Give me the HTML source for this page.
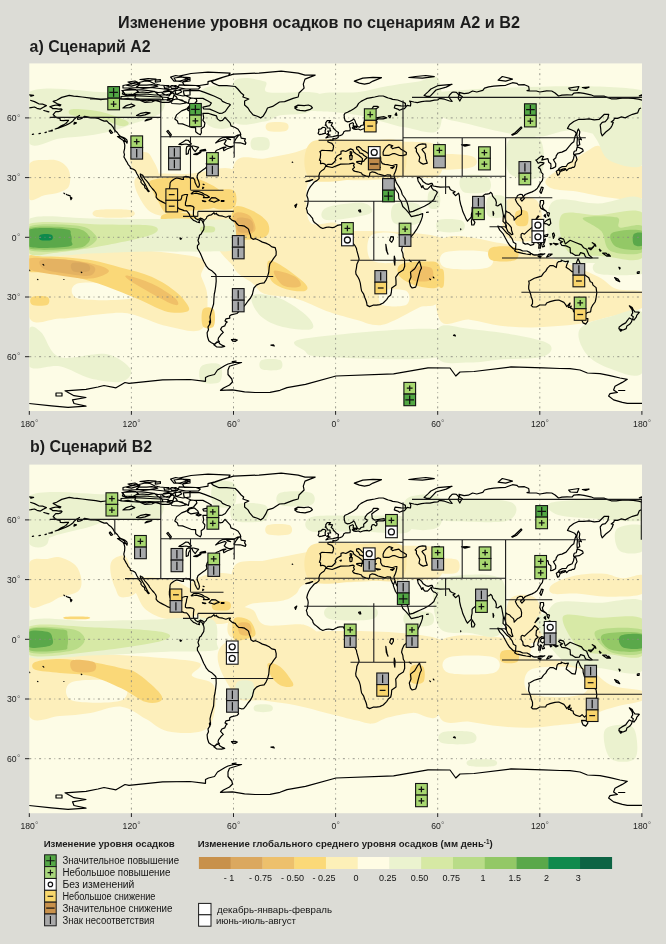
<!DOCTYPE html>
<html><head><meta charset="utf-8"><title>Изменение уровня осадков</title>
<style>html,body{margin:0;padding:0;background:#dcdcd6;}svg{display:block;}</style></head>
<body><svg width="666" height="944" viewBox="0 0 666 944" font-family="'Liberation Sans', 'Noto Sans CJK SC', sans-serif"><rect x="0" y="0" width="666" height="944" fill="#dcdcd6"/>
<text x="118.0" y="27.6" font-size="17" font-weight="bold" text-anchor="start" fill="#1c1c1c" textLength="402" lengthAdjust="spacingAndGlyphs">Изменение уровня осадков по сценариям А2 и В2</text>
<text x="29.6" y="51.6" font-size="16" font-weight="bold" text-anchor="start" fill="#1c1c1c" textLength="121" lengthAdjust="spacingAndGlyphs">a) Сценарий А2</text>
<text x="30.1" y="451.5" font-size="16" font-weight="bold" text-anchor="start" fill="#1c1c1c" textLength="122" lengthAdjust="spacingAndGlyphs">b) Сценарий В2</text>
<clipPath id="clipA"><rect x="29.3" y="63.4" width="612.7" height="347.6"/></clipPath>
<rect x="29.3" y="63.4" width="612.7" height="347.6" fill="#fdfce6"/>
<g clip-path="url(#clipA)">
<path d="M29.0,164.6C32.1,158.2 42.3,160.5 47.5,160.0C52.6,159.4 56.2,159.7 59.8,161.5C63.4,163.3 67.5,166.6 69.0,170.7C70.6,174.8 70.6,182.5 69.0,186.1C67.5,189.7 63.9,190.7 59.8,192.3C55.7,193.8 49.5,194.3 44.4,195.3C39.3,196.4 31.6,203.6 29.0,198.4C26.4,193.3 25.9,171.0 29.0,164.6ZM130.6,155.3C132.6,152.3 142.4,151.7 146.0,152.3C149.5,152.8 150.1,154.8 152.1,158.4C154.2,162.0 159.3,170.7 158.3,173.8C157.2,176.9 150.1,177.4 146.0,176.9C141.9,176.4 136.2,174.3 133.6,170.7C131.1,167.1 128.5,158.4 130.6,155.3ZM136.7,176.9C143.9,171.2 172.8,174.8 189.0,173.8C205.3,172.8 226.5,163.5 234.0,170.7C241.5,177.9 239.4,208.9 234.0,216.9C228.5,224.8 212.4,218.4 201.4,218.4C190.3,218.4 176.7,218.7 167.5,216.9C158.3,215.1 151.1,214.3 146.0,207.7C140.8,201.0 129.5,182.5 136.7,176.9ZM96.7,210.1C102.4,209.0 124.9,209.0 130.6,210.1C136.2,211.3 136.2,215.8 130.6,216.9C124.9,218.0 102.4,218.0 96.7,216.9C91.1,215.8 91.1,211.3 96.7,210.1ZM234.0,164.6C239.1,151.5 254.5,160.5 264.8,158.4C275.0,156.4 286.3,154.8 295.6,152.3C304.8,149.7 312.5,145.1 320.2,143.0C327.9,141.0 333.0,140.5 341.7,139.9C350.4,139.4 362.2,139.7 372.5,139.9C382.8,140.2 392.2,140.5 403.3,141.5C414.4,142.5 433.0,140.5 439.0,146.1C444.9,151.7 444.9,170.2 439.0,175.3C433.0,180.5 414.4,176.1 403.3,176.9C392.2,177.7 383.8,179.4 372.5,180.0C361.2,180.5 345.8,180.0 335.6,180.0C325.3,180.0 315.8,176.9 310.9,180.0C306.1,183.0 306.3,191.2 306.3,198.4C306.3,205.6 306.1,218.9 310.9,223.0C315.8,227.2 331.5,220.7 335.6,223.0C339.7,225.4 352.5,234.6 335.6,236.9C318.6,239.2 250.9,249.0 234.0,236.9C217.1,224.8 228.9,177.7 234.0,164.6ZM267.9,123.0C270.9,121.7 283.2,121.7 286.3,123.0C289.4,124.3 289.4,129.4 286.3,130.7C283.2,132.0 270.9,132.0 267.9,130.7C264.8,129.4 264.8,124.3 267.9,123.0ZM439.0,154.9C444.6,152.8 467.1,154.4 472.7,156.4C478.3,158.5 478.3,165.1 472.7,167.1C467.1,169.2 444.6,170.7 439.0,168.7C433.4,166.6 433.4,156.9 439.0,154.9ZM546.2,179.4C548.7,175.3 561.0,168.7 567.6,164.1C574.3,159.5 580.9,154.9 586.0,151.8C591.1,148.8 594.7,145.2 598.3,145.7C601.8,146.2 603.4,151.8 607.5,154.9C611.5,157.9 616.8,162.0 622.8,164.1C628.7,166.1 639.6,161.5 643.0,167.1C646.4,172.7 648.4,192.7 643.0,197.8C637.6,202.9 621.5,198.8 610.5,197.8C599.5,196.7 586.5,193.2 576.8,191.6C567.1,190.1 557.4,190.6 552.3,188.6C547.2,186.5 543.6,183.5 546.2,179.4ZM506.4,200.8C511.5,194.8 531.4,194.8 537.0,200.8C542.6,206.8 545.2,230.9 540.1,237.0C535.0,243.0 512.0,243.0 506.4,237.0C500.8,230.9 501.3,206.8 506.4,200.8ZM29.0,250.9C55.7,240.6 160.3,251.1 189.0,255.5C217.8,259.8 198.3,269.8 201.4,277.0C204.4,284.2 207.5,289.8 207.5,298.6C207.5,307.3 208.0,324.7 201.4,329.3C194.7,334.0 179.3,328.8 167.5,326.3C155.7,323.7 141.3,316.0 130.6,313.9C119.8,311.9 114.7,313.2 102.9,313.9C91.1,314.7 72.1,318.1 59.8,318.6C47.5,319.1 34.1,328.3 29.0,317.0C23.9,305.7 2.3,261.1 29.0,250.9ZM234.0,237.0C268.2,231.9 404.8,226.7 439.0,237.0C473.2,247.3 442.4,286.8 439.0,298.6C435.6,310.4 427.2,303.7 418.7,307.8C410.2,311.9 395.6,320.4 387.9,323.2C380.2,326.0 377.6,325.2 372.5,324.7C367.4,324.2 364.8,322.4 357.1,320.1C349.4,317.8 336.6,314.5 326.3,310.9C316.1,307.3 305.8,301.4 295.6,298.6C285.3,295.7 272.0,296.5 264.8,293.9C257.6,291.4 257.6,287.5 252.5,283.2C247.3,278.8 237.1,275.5 234.0,267.8C230.9,260.1 199.8,242.1 234.0,237.0ZM439.0,241.6C449.2,229.1 486.0,241.3 500.3,243.1C514.5,244.9 514.5,249.3 524.8,252.3C535.0,255.4 549.3,257.4 561.5,261.5C573.8,265.6 589.1,272.2 598.3,276.8C607.5,281.4 609.2,286.5 616.6,289.1C624.1,291.6 638.6,289.1 643.0,292.1C647.4,295.2 648.4,303.4 643.0,307.4C637.6,311.5 620.0,314.1 610.5,316.6C601.0,319.2 594.2,321.2 586.0,322.8C577.8,324.3 570.7,325.1 561.5,325.8C552.3,326.6 541.1,327.4 530.9,327.4C520.7,327.4 510.5,327.1 500.3,325.8C490.0,324.5 479.8,321.0 469.6,319.7C459.4,318.4 444.1,331.2 439.0,318.2C433.9,305.1 428.8,254.1 439.0,241.6ZM201.4,185.2C206.8,179.5 228.5,176.4 234.0,182.1C239.4,187.7 237.4,211.8 234.0,219.0C230.6,226.2 219.1,225.7 213.7,225.2C208.2,224.7 203.4,222.6 201.4,215.9C199.3,209.3 195.9,190.8 201.4,185.2Z" fill="#fdefbb"/><path d="M78.2,283.2C87.0,281.1 121.8,283.7 130.6,286.2C139.3,288.8 139.3,296.5 130.6,298.6C121.8,300.6 87.0,301.1 78.2,298.6C69.5,296.0 69.5,285.2 78.2,283.2ZM371.0,235.5C375.8,231.4 395.3,231.4 400.2,235.5C405.1,239.6 405.1,256.0 400.2,260.1C395.3,264.2 375.8,264.2 371.0,260.1C366.1,256.0 366.1,239.6 371.0,235.5ZM381.7,290.9C385.8,288.6 402.3,288.6 406.4,290.9C410.5,293.2 410.5,302.4 406.4,304.7C402.3,307.0 385.8,307.0 381.7,304.7C377.6,302.4 377.6,293.2 381.7,290.9ZM445.1,252.3C452.3,249.8 480.9,249.8 488.0,252.3C495.2,254.9 495.2,265.1 488.0,267.6C480.9,270.2 452.3,270.2 445.1,267.6C438.0,265.1 438.0,254.9 445.1,252.3Z" fill="#fdfce6"/><path d="M310.9,142.4C319.7,135.9 348.1,140.6 363.3,140.6C378.4,140.6 395.3,136.5 401.7,142.4C408.2,148.4 408.2,170.3 401.7,176.3C395.3,182.3 378.4,177.9 363.3,178.4C348.1,178.9 319.7,185.3 310.9,179.3C302.2,173.3 302.2,148.9 310.9,142.4Z" fill="#fce8a6"/><path d="M152.1,180.0C158.3,177.9 178.8,175.9 189.0,176.9C199.3,177.9 207.5,182.5 213.7,186.1C219.8,189.7 226.0,194.8 226.0,198.4C226.0,202.0 219.8,205.6 213.7,207.7C207.5,209.7 196.7,209.7 189.0,210.7C181.4,211.8 172.6,215.4 167.5,213.8C162.4,212.3 160.8,205.6 158.3,201.5C155.7,197.4 153.1,192.8 152.1,189.2C151.1,185.6 146.0,182.0 152.1,180.0ZM213.7,192.3C217.1,189.4 230.6,188.2 234.0,190.7C237.4,193.3 237.4,204.8 234.0,207.7C230.6,210.5 217.1,210.2 213.7,207.7C210.3,205.1 210.3,195.1 213.7,192.3ZM29.0,255.5C34.1,253.2 49.5,256.2 59.8,257.0C70.0,257.8 80.3,258.3 90.6,260.1C100.8,261.9 111.1,265.0 121.3,267.8C131.6,270.6 142.9,272.9 152.1,277.0C161.3,281.1 170.6,287.3 176.7,292.4C182.9,297.5 188.0,304.5 189.0,307.8C190.1,311.1 187.0,311.9 182.9,312.4C178.8,312.9 172.1,313.2 164.4,310.9C156.7,308.6 146.5,302.7 136.7,298.6C127.0,294.5 116.2,289.8 105.9,286.2C95.7,282.7 85.4,279.3 75.2,277.0C64.9,274.7 52.1,273.4 44.4,272.4C36.7,271.4 31.6,273.7 29.0,270.9C26.4,268.0 23.9,257.8 29.0,255.5ZM32.1,297.0C34.6,295.7 44.9,295.7 47.5,297.0C50.0,298.3 50.0,303.4 47.5,304.7C44.9,306.0 34.6,306.0 32.1,304.7C29.5,303.4 29.5,298.3 32.1,297.0ZM202.9,309.3C204.7,306.5 211.9,306.5 213.7,309.3C215.5,312.2 215.5,323.4 213.7,326.3C211.9,329.1 204.7,329.1 202.9,326.3C201.1,323.4 201.1,312.2 202.9,309.3ZM234.0,207.7C237.1,203.3 246.8,208.2 252.5,210.7C258.1,213.3 265.8,218.7 267.9,223.0C269.9,227.4 270.4,234.6 264.8,236.9C259.1,239.2 239.1,241.8 234.0,236.9C228.9,232.0 230.9,212.0 234.0,207.7ZM267.9,261.6C269.4,259.1 274.0,261.1 280.2,264.7C286.3,268.3 300.7,278.8 304.8,283.2C308.9,287.5 307.9,289.8 304.8,290.9C301.7,291.9 292.0,291.1 286.3,289.3C280.7,287.5 274.0,284.7 270.9,280.1C267.9,275.5 266.3,264.2 267.9,261.6ZM400.2,264.7C404.3,262.1 418.4,261.6 424.8,261.6C431.3,261.6 436.6,260.6 439.0,264.7C441.3,268.8 442.4,282.7 439.0,286.2C435.6,289.8 425.1,287.8 418.7,286.2C412.2,284.7 403.3,280.6 400.2,277.0C397.1,273.4 396.1,267.3 400.2,264.7ZM516.2,211.5C518.0,209.4 525.4,209.4 527.2,211.5C529.0,213.7 529.0,222.5 527.2,224.7C525.4,226.9 518.0,226.9 516.2,224.7C514.3,222.5 514.3,213.7 516.2,211.5ZM491.1,247.7C495.2,245.7 511.5,245.7 515.6,247.7C519.7,249.8 519.7,257.9 515.6,260.0C511.5,262.0 495.2,262.0 491.1,260.0C487.0,257.9 487.0,249.8 491.1,247.7ZM439.0,270.7C439.8,268.1 442.8,268.1 443.6,270.7C444.4,273.2 444.4,283.5 443.6,286.0C442.8,288.6 439.8,288.6 439.0,286.0C438.2,283.5 438.2,273.2 439.0,270.7ZM161.3,215.9C164.4,212.1 184.9,211.8 192.1,214.4C199.3,217.0 207.5,227.5 204.4,231.3C201.4,235.2 180.8,240.0 173.7,237.5C166.5,234.9 158.3,219.8 161.3,215.9ZM622.8,255.6C625.6,253.2 639.6,252.4 643.0,255.0C646.4,257.5 645.8,268.5 643.0,270.9C640.1,273.3 629.2,271.9 625.8,269.4C622.5,266.8 619.9,258.0 622.8,255.6Z" fill="#fad878"/><path d="M29.0,258.5C34.1,256.9 49.5,258.4 59.8,259.2C70.0,259.9 82.3,261.2 90.6,263.2C98.8,265.1 109.0,268.3 109.0,270.9C109.0,273.4 98.8,277.8 90.6,278.6C82.3,279.3 70.0,277.0 59.8,275.5C49.5,273.9 34.1,272.1 29.0,269.3C23.9,266.5 23.9,260.2 29.0,258.5ZM127.5,275.5C131.3,276.1 144.4,280.2 152.1,283.8C159.8,287.4 169.3,293.6 173.7,297.0C178.0,300.4 178.5,302.9 178.3,304.1C178.0,305.3 176.7,305.9 172.1,304.1C167.5,302.3 157.8,297.0 150.6,293.0C143.4,289.0 132.9,283.0 129.0,280.1C125.2,277.2 123.6,274.9 127.5,275.5ZM234.0,213.8C236.6,210.5 245.8,212.8 249.4,215.4C253.0,217.9 256.1,225.9 255.5,229.2C255.0,232.5 249.9,234.3 246.3,235.4C242.7,236.4 236.1,239.0 234.0,235.4C231.9,231.8 231.4,217.1 234.0,213.8ZM274.0,270.9C276.1,269.4 291.2,274.4 295.6,277.0C299.9,279.6 302.2,284.8 300.2,286.2C298.1,287.7 287.6,288.2 283.2,285.6C278.9,283.1 272.0,272.3 274.0,270.9ZM412.5,267.8C415.6,265.7 427.9,265.7 431.0,267.8C434.1,269.8 434.1,278.0 431.0,280.1C427.9,282.1 415.6,282.1 412.5,280.1C409.4,278.0 409.4,269.8 412.5,267.8ZM167.5,222.1C170.1,219.8 184.4,218.8 189.0,220.6C193.7,222.3 197.8,230.6 195.2,232.9C192.6,235.2 178.3,236.2 173.7,234.4C169.0,232.6 164.9,224.4 167.5,222.1Z" fill="#f0c068"/><path d="M41.3,260.1C45.4,258.5 60.3,259.1 69.0,260.1C77.7,261.1 90.0,263.7 93.6,266.2C97.2,268.8 94.7,274.2 90.6,275.5C86.5,276.8 76.7,275.0 69.0,273.9C61.3,272.9 49.0,271.6 44.4,269.3C39.8,267.0 37.2,261.6 41.3,260.1ZM237.1,218.4C239.1,216.5 248.4,217.9 250.9,220.0C253.5,222.0 254.5,228.8 252.5,230.7C250.4,232.7 241.2,233.7 238.6,231.7C236.1,229.6 235.0,220.4 237.1,218.4ZM172.1,225.2C173.9,223.9 182.2,224.0 184.4,225.2C186.6,226.3 187.2,230.7 185.4,231.9C183.6,233.2 175.9,233.7 173.7,232.6C171.5,231.4 170.3,226.4 172.1,225.2Z" fill="#e4b262"/><path d="M72.1,263.2C74.4,261.9 84.7,262.8 87.5,264.1C90.3,265.4 91.3,269.6 89.0,270.9C86.7,272.1 76.5,272.8 73.6,271.5C70.8,270.2 69.8,264.4 72.1,263.2Z" fill="#d9a85e"/><path d="M29.0,219.0C39.3,213.1 70.0,218.4 90.6,218.4C111.1,218.4 136.7,219.0 152.1,219.0C167.5,219.0 172.6,218.3 182.9,218.4C193.2,218.5 205.2,219.0 213.7,219.6C222.1,220.2 230.3,217.3 233.7,222.1C237.0,226.9 237.0,243.4 233.7,248.3C230.3,253.1 222.1,250.8 213.7,251.3C205.2,251.9 193.2,251.6 182.9,251.6C172.6,251.7 162.4,251.5 152.1,251.6C141.9,251.7 131.6,251.9 121.3,252.3C111.1,252.6 105.9,253.2 90.6,253.5C75.2,253.8 39.3,259.8 29.0,254.1C18.7,248.4 18.7,225.0 29.0,219.0ZM29.0,92.2C41.8,83.8 84.4,92.0 105.9,92.2C127.5,92.5 149.0,90.4 158.3,93.8C167.5,97.1 166.0,107.1 161.3,112.2C156.7,117.4 137.8,121.7 130.6,124.6C123.4,127.4 124.9,127.4 118.3,129.2C111.6,131.0 100.3,133.8 90.6,135.3C80.8,136.9 70.0,137.1 59.8,138.4C49.5,139.7 34.1,150.7 29.0,143.0C23.9,135.3 16.2,100.7 29.0,92.2ZM201.4,90.7C205.8,84.8 228.5,83.5 234.0,89.2C239.4,94.8 238.4,118.7 234.0,124.6C229.6,130.5 213.0,130.2 207.5,124.6C202.1,118.9 196.9,96.6 201.4,90.7ZM234.0,81.5C239.1,74.8 259.1,79.7 264.8,81.5C270.4,83.3 260.2,90.4 267.9,92.2C275.6,94.0 302.2,91.5 310.9,92.2C319.7,93.0 320.7,93.5 320.2,96.9C319.7,100.2 314.5,109.2 307.9,112.2C301.2,115.3 287.3,113.8 280.2,115.3C273.0,116.9 272.5,120.5 264.8,121.5C257.1,122.5 239.1,128.1 234.0,121.5C228.9,114.8 228.9,88.1 234.0,81.5ZM320.2,93.8C328.4,91.0 345.8,93.5 357.1,92.2C368.4,91.0 377.6,87.9 387.9,86.1C398.2,84.3 410.2,82.5 418.7,81.5C427.2,80.4 435.6,72.0 439.0,79.9C442.4,87.9 444.4,121.2 439.0,129.2C433.5,137.1 415.9,128.9 406.4,127.6C396.8,126.4 388.9,123.4 381.7,121.5C374.6,119.5 371.0,117.5 363.3,115.9C355.6,114.4 344.8,113.4 335.6,112.2C326.3,111.1 310.4,112.2 307.9,109.2C305.3,106.1 312.0,96.6 320.2,93.8ZM252.5,138.4C255.0,136.6 265.3,136.6 267.9,138.4C270.4,140.2 270.4,147.4 267.9,149.2C265.3,151.0 255.0,151.0 252.5,149.2C249.9,147.4 249.9,140.2 252.5,138.4ZM326.3,207.7C332.5,204.8 356.1,202.0 363.3,203.0C370.5,204.1 375.6,211.0 369.4,213.8C363.3,216.6 333.5,221.0 326.3,220.0C319.2,218.9 320.2,210.5 326.3,207.7ZM394.0,204.6C398.2,201.5 414.6,201.5 418.7,204.6C422.8,207.7 422.8,220.0 418.7,223.0C414.6,226.1 398.2,226.1 394.0,223.0C389.9,220.0 389.9,207.7 394.0,204.6ZM439.0,92.1C473.0,88.0 609.0,82.1 643.0,90.6C677.0,99.0 648.4,134.5 643.0,142.6C637.6,150.8 619.0,141.1 610.5,139.6C602.0,138.0 599.3,135.0 592.1,133.4C585.0,131.9 576.3,129.9 567.6,130.4C559.0,130.9 549.8,136.0 540.1,136.5C530.4,137.0 521.2,135.5 509.4,133.4C497.7,131.4 481.4,127.3 469.6,124.3C457.9,121.2 444.1,120.4 439.0,115.1C433.9,109.7 405.0,96.2 439.0,92.1ZM592.1,121.2C599.6,117.1 634.5,111.0 643.0,118.1C651.5,125.3 648.4,156.9 643.0,164.1C637.6,171.2 618.0,164.6 610.5,161.0C603.1,157.4 601.3,149.3 598.3,142.6C595.2,136.0 584.7,125.3 592.1,121.2ZM509.4,139.6C514.5,134.0 535.0,133.4 540.1,139.6C545.2,145.7 545.2,170.7 540.1,176.3C535.0,181.9 514.5,179.4 509.4,173.3C504.3,167.1 504.3,145.2 509.4,139.6ZM552.3,202.0C560.5,194.8 583.2,203.8 598.3,203.5C613.4,203.2 635.5,190.2 643.0,200.4C650.4,210.6 649.9,254.3 643.0,264.8C636.0,275.2 614.9,263.7 601.3,263.2C587.7,262.7 570.2,264.5 561.5,261.7C552.8,258.9 550.8,256.3 549.3,246.4C547.7,236.4 544.2,209.1 552.3,202.0ZM29.0,329.3C31.1,323.7 36.2,327.8 41.3,332.4C46.4,337.0 49.0,353.4 59.8,357.0C70.6,360.6 94.1,351.9 105.9,354.0C117.7,356.0 128.0,364.7 130.6,369.3C133.1,374.0 128.0,380.1 121.3,381.7C114.7,383.2 100.8,381.1 90.6,378.6C80.3,376.0 70.0,368.3 59.8,366.3C49.5,364.2 34.1,372.4 29.0,366.3C23.9,360.1 26.9,335.0 29.0,329.3ZM201.4,366.3C204.4,363.4 216.8,362.2 219.8,364.7C222.9,367.3 222.9,378.8 219.8,381.7C216.8,384.5 204.4,384.2 201.4,381.7C198.3,379.1 198.3,369.1 201.4,366.3ZM252.5,295.5C256.1,292.9 270.9,295.0 280.2,298.6C289.4,302.1 302.7,311.9 307.9,317.0C313.0,322.2 315.6,327.8 310.9,329.3C306.3,330.9 288.9,328.8 280.2,326.3C271.4,323.7 263.2,319.1 258.6,313.9C254.0,308.8 248.9,298.0 252.5,295.5ZM304.8,338.6C327.2,335.0 416.6,326.3 439.0,329.3C461.4,332.4 457.8,352.4 439.0,357.0C420.2,361.7 348.7,358.1 326.3,357.0C304.0,356.0 308.4,354.0 304.8,350.9C301.2,347.8 282.4,342.2 304.8,338.6ZM261.7,360.1C264.8,358.6 277.1,358.6 280.2,360.1C283.2,361.7 283.2,367.8 280.2,369.3C277.1,370.9 264.8,370.9 261.7,369.3C258.6,367.8 258.6,361.7 261.7,360.1ZM439.0,327.4C444.1,322.2 456.9,327.6 469.6,328.9C482.4,330.2 502.3,332.5 515.6,335.0C528.8,337.6 544.7,340.6 549.3,344.2C553.9,347.8 551.3,353.9 543.1,356.4C535.0,359.0 512.5,358.5 500.3,359.5C488.0,360.5 479.8,362.6 469.6,362.6C459.4,362.6 444.1,365.4 439.0,359.5C433.9,353.6 433.9,332.5 439.0,327.4ZM579.9,328.9C584.0,322.8 600.0,319.2 610.5,316.6C621.0,314.1 637.6,304.4 643.0,313.6C648.4,322.8 648.4,362.6 643.0,371.8C637.6,381.0 620.0,371.8 610.5,368.7C601.0,365.6 591.1,360.0 586.0,353.4C580.9,346.7 575.8,335.0 579.9,328.9ZM598.3,261.5C605.7,259.5 635.5,259.5 643.0,261.5C650.4,263.5 650.4,271.7 643.0,273.8C635.5,275.8 605.7,275.8 598.3,273.8C590.8,271.7 590.8,263.5 598.3,261.5ZM462.0,176.5C465.9,174.0 482.6,174.2 487.1,176.5C491.5,178.9 492.5,188.4 488.6,190.9C484.7,193.5 467.9,194.3 463.5,191.9C459.1,189.5 458.0,179.1 462.0,176.5ZM439.0,220.0C442.8,218.3 458.1,218.8 462.0,220.7C465.8,222.5 465.8,229.3 462.0,231.1C458.1,232.8 442.8,232.9 439.0,231.1C435.2,229.2 435.2,221.8 439.0,220.0ZM428.9,191.9C430.6,189.3 437.3,189.3 439.0,191.9C440.7,194.4 440.7,204.6 439.0,207.2C437.3,209.7 430.6,209.7 428.9,207.2C427.2,204.6 427.2,194.4 428.9,191.9ZM488.0,197.4C490.8,194.3 502.0,194.3 504.8,197.4C507.7,200.4 507.7,212.7 504.8,215.8C502.0,218.8 490.8,218.8 488.0,215.8C485.2,212.7 485.2,200.4 488.0,197.4Z" fill="#ebf2cf"/><path d="M29.0,223.9C41.8,219.2 85.4,224.2 105.9,224.6C126.5,224.9 144.4,224.1 152.1,225.8C159.8,227.4 159.8,231.2 152.1,234.4C144.4,237.6 121.3,242.2 105.9,245.2C90.6,248.1 72.6,250.9 59.8,252.3C47.0,253.6 34.1,257.9 29.0,253.2C23.9,248.5 16.2,228.7 29.0,223.9ZM115.2,226.7C120.3,226.1 140.8,226.1 146.0,226.7C151.1,227.3 151.1,229.5 146.0,230.1C140.8,230.7 120.3,230.7 115.2,230.1C110.1,229.5 110.1,227.3 115.2,226.7ZM201.4,226.7C203.4,225.8 211.6,225.8 213.7,226.7C215.7,227.6 215.7,231.1 213.7,231.9C211.6,232.8 203.4,232.8 201.4,231.9C199.3,231.1 199.3,227.6 201.4,226.7ZM72.1,109.2C76.7,108.6 90.6,109.6 99.8,111.6C109.0,113.7 123.9,119.1 127.5,121.5C131.1,123.9 126.0,126.6 121.3,126.1C116.7,125.6 108.0,120.2 99.8,118.4C91.6,116.6 76.7,116.9 72.1,115.3C67.5,113.8 67.5,109.8 72.1,109.2ZM561.5,215.1C566.6,209.2 584.7,215.4 598.3,215.1C611.8,214.8 635.5,206.3 643.0,213.3C650.4,220.3 649.4,250.0 643.0,257.1C636.5,264.2 616.9,257.2 604.4,256.2C591.8,255.2 574.8,257.8 567.6,251.0C560.5,244.1 556.4,221.1 561.5,215.1Z" fill="#d7e9a6"/><path d="M29.0,226.7C37.2,222.7 67.3,224.5 78.2,225.8C89.2,227.1 92.1,231.7 94.9,234.4C97.6,237.1 97.6,239.6 94.9,242.1C92.1,244.6 89.2,247.8 78.2,249.2C67.3,250.5 37.2,253.8 29.0,250.1C20.8,246.4 20.8,230.8 29.0,226.7ZM583.0,217.9C585.5,215.6 610.5,215.7 616.6,217.3C622.8,218.9 615.3,225.9 619.7,227.4C624.1,228.9 639.1,222.4 643.0,226.5C646.9,230.6 648.4,247.8 643.0,251.9C637.6,256.0 617.5,254.4 610.5,251.0C603.6,247.5 605.9,236.6 601.3,231.1C596.7,225.6 580.4,220.2 583.0,217.9Z" fill="#b9dc88"/><path d="M29.0,228.2C36.7,224.9 65.2,227.0 75.2,228.2C85.2,229.5 87.0,233.4 89.0,235.9C91.1,238.5 89.8,241.6 87.5,243.6C85.2,245.7 84.9,247.5 75.2,248.3C65.4,249.0 36.7,251.6 29.0,248.3C21.3,244.9 21.3,231.6 29.0,228.2ZM612.0,232.9C616.4,230.3 637.8,228.4 643.0,231.1C648.1,233.7 647.4,246.2 643.0,248.8C638.6,251.5 621.8,249.6 616.6,247.0C611.5,244.3 607.7,235.6 612.0,232.9Z" fill="#93c866"/><path d="M29.0,229.8C35.2,226.9 59.0,228.4 65.9,229.2C72.9,229.9 69.9,232.5 70.9,234.4C71.8,236.3 71.9,238.6 71.5,240.6C71.1,242.6 75.5,245.4 68.4,246.4C61.3,247.4 35.6,249.2 29.0,246.4C22.4,243.6 22.8,232.7 29.0,229.8ZM633.8,234.1C635.3,232.3 641.5,231.7 643.0,233.5C644.5,235.4 644.5,243.3 643.0,245.2C641.5,247.0 635.3,246.4 633.8,244.5C632.3,242.7 632.3,236.0 633.8,234.1Z" fill="#5aa84a"/><path d="M40.4,234.7C42.2,233.8 49.6,233.8 51.5,234.7C53.3,235.6 53.3,239.1 51.5,239.9C49.6,240.8 42.2,240.8 40.4,239.9C38.5,239.1 38.5,235.6 40.4,234.7Z" fill="#0f8a4c"/>
<line x1="29.3" y1="117.9" x2="641.9" y2="117.9" stroke="#8a8a80" stroke-width="0.9" stroke-dasharray="2,3.5,0.8,3.5"/>
<line x1="29.3" y1="177.6" x2="641.9" y2="177.6" stroke="#8a8a80" stroke-width="0.9" stroke-dasharray="2,3.5,0.8,3.5"/>
<line x1="29.3" y1="237.3" x2="641.9" y2="237.3" stroke="#8a8a80" stroke-width="0.9" stroke-dasharray="2,3.5,0.8,3.5"/>
<line x1="29.3" y1="297.0" x2="641.9" y2="297.0" stroke="#8a8a80" stroke-width="0.9" stroke-dasharray="2,3.5,0.8,3.5"/>
<line x1="29.3" y1="356.7" x2="641.9" y2="356.7" stroke="#8a8a80" stroke-width="0.9" stroke-dasharray="2,3.5,0.8,3.5"/>
<line x1="131.4" y1="63.4" x2="131.4" y2="411.0" stroke="#8a8a80" stroke-width="0.9" stroke-dasharray="2,3.5,0.8,3.5"/>
<line x1="233.5" y1="63.4" x2="233.5" y2="411.0" stroke="#8a8a80" stroke-width="0.9" stroke-dasharray="2,3.5,0.8,3.5"/>
<line x1="335.6" y1="63.4" x2="335.6" y2="411.0" stroke="#8a8a80" stroke-width="0.9" stroke-dasharray="2,3.5,0.8,3.5"/>
<line x1="437.7" y1="63.4" x2="437.7" y2="411.0" stroke="#8a8a80" stroke-width="0.9" stroke-dasharray="2,3.5,0.8,3.5"/>
<line x1="539.8" y1="63.4" x2="539.8" y2="411.0" stroke="#8a8a80" stroke-width="0.9" stroke-dasharray="2,3.5,0.8,3.5"/>
<path d="M49.8,106.8L53.2,105.6L56.6,105.0L60.0,105.8L60.8,104.8L57.4,103.8L53.2,101.4L56.6,100.2L61.7,97.4L69.2,95.4L73.6,96.2L77.0,96.4L82.1,97.0L88.9,97.8L95.7,98.6L100.8,99.6L105.9,99.0L109.3,99.0L114.4,97.8L117.8,98.0L122.9,99.2L128.0,98.4L134.8,100.0L139.9,100.2L145.0,102.4L151.8,102.0L155.3,100.4L162.1,102.4L168.9,102.4L172.3,101.0L174.0,95.0L176.5,97.0L177.4,99.0L182.5,101.0L185.9,102.0L188.4,103.4L189.3,99.0L191.8,98.0L196.1,98.6L196.9,101.0L193.5,105.0L189.3,106.0L186.7,108.9L181.6,110.9L176.5,114.9L174.8,118.9L177.4,120.9L178.2,123.7L182.5,123.9L185.9,125.3L191.0,127.3L195.6,127.7L195.7,131.8L197.8,133.4L200.3,134.8L201.4,132.8L201.2,128.8L204.3,126.5L204.9,122.9L202.9,120.3L203.7,117.9L202.9,113.3L208.0,113.3L213.1,114.9L216.5,115.9L217.4,118.9L219.9,120.9L222.5,120.3L225.0,117.3L226.4,118.9L230.1,122.9L231.0,125.9L235.2,127.5L238.1,129.2L240.3,132.8L240.8,134.6L237.8,135.0L233.5,137.4L226.7,137.2L222.5,137.6L219.1,139.6L215.7,143.0L217.4,142.0L225.0,139.4L226.2,140.2L225.3,142.2L224.2,143.8L225.9,145.4L228.4,146.4L231.3,146.6L233.5,146.0L231.5,147.2L227.4,148.7L223.8,150.7L223.3,148.5L225.9,147.2L223.3,147.4L221.6,148.1L219.1,149.3L216.2,150.5L215.3,152.3L216.5,154.1L215.7,154.7L213.1,155.3L209.7,156.5L209.5,158.3L208.0,159.9L207.1,161.1L206.3,163.7L207.0,166.5L205.4,168.2L203.1,169.8L200.8,171.4L198.1,173.4L197.1,176.2L197.4,178.6L198.6,181.2L199.5,184.6L198.8,187.2L197.6,187.2L196.4,185.2L195.1,182.6L194.7,180.0L193.2,177.8L190.5,178.2L188.4,176.8L185.9,176.4L183.3,177.2L183.5,179.4L182.1,179.4L179.9,178.6L176.5,178.0L174.3,179.0L171.2,181.2L170.1,183.0L169.9,186.0L169.4,189.5L169.4,192.9L170.1,195.5L171.4,198.5L173.1,200.1L174.8,201.1L178.2,200.3L180.8,199.9L181.6,197.7L182.0,195.5L185.0,194.5L187.6,194.5L186.7,197.1L186.2,200.5L185.5,202.5L185.4,205.3L186.7,205.9L190.1,205.7L192.7,206.3L194.0,207.5L193.5,210.4L193.4,214.4L193.5,215.6L195.6,218.4L197.8,219.8L200.3,218.2L202.4,218.8L204.1,220.4L203.1,223.0L202.0,220.6L200.3,219.6L199.0,221.0L199.5,222.6L196.9,222.0L195.2,221.0L193.5,220.4L191.0,217.8L189.8,215.8L189.3,214.2L187.6,211.8L186.6,210.8L184.2,210.6L181.6,209.6L179.9,209.2L178.2,208.0L176.5,205.9L174.5,205.1L172.3,206.1L169.7,205.5L168.0,204.9L165.5,203.5L162.7,202.1L160.4,200.9L157.8,199.3L156.1,197.1L156.4,194.5L155.6,192.5L154.1,190.5L152.2,188.5L151.0,187.0L149.5,185.2L148.8,183.6L147.4,181.8L146.2,180.4L144.7,178.8L143.7,177.0L142.8,175.4L141.3,174.6L140.3,174.0L140.6,176.6L142.3,179.2L143.7,181.6L145.4,184.6L146.7,187.2L147.9,189.5L149.3,191.3L148.3,191.7L146.7,189.3L144.9,187.9L144.5,185.6L142.3,184.0L140.8,182.0L141.3,180.6L139.4,178.4L138.1,175.8L136.9,173.8L136.2,172.2L135.5,170.8L134.2,169.6L132.3,168.8L130.4,168.4L130.1,166.7L128.2,164.7L127.2,162.5L126.3,161.1L125.0,158.7L123.9,156.9L124.5,154.7L123.8,152.1L124.6,148.7L124.8,145.4L124.3,142.8L123.4,141.0L126.0,141.6L127.0,143.2L127.3,141.4L126.7,139.8L125.1,138.4L122.9,137.2L120.4,136.2L118.7,134.8L117.5,132.8L115.3,130.8L113.9,128.8L112.9,126.9L111.4,125.1L109.0,123.3L106.8,120.9L104.2,121.1L101.7,120.1L98.3,118.5L94.9,117.9L90.9,117.9L87.2,116.9L84.6,116.3L82.6,117.9L80.4,118.9L77.8,119.5L77.3,116.9L79.5,115.5L76.6,117.3L74.4,118.9L73.2,120.7L70.5,122.7L68.5,123.9L65.9,125.3L63.4,126.3L60.8,127.3L58.3,128.2L55.2,129.0L58.3,127.7L60.8,126.1L63.4,124.9L65.8,123.5L67.5,121.7L68.5,120.3L65.9,120.3L63.4,120.7L60.3,120.5L60.0,118.3L57.4,117.9L55.2,116.9L54.5,115.7L53.2,114.7L54.4,113.1L55.7,111.7L58.3,111.7L60.8,110.9L62.0,109.5L61.3,108.9L58.6,109.1L56.1,108.7L52.8,108.7L51.8,107.8L49.8,106.8ZM204.1,220.4L206.3,218.4L207.1,216.4L208.8,215.4L211.4,214.8L213.1,213.6L213.9,212.6L214.8,214.2L216.5,213.2L216.8,214.4L219.2,215.6L222.8,216.2L225.9,217.2L228.9,216.0L230.5,216.2L229.3,217.8L232.2,220.4L235.2,221.4L236.9,223.8L238.6,225.4L242.0,225.6L244.6,226.2L247.1,227.9L248.5,229.1L249.7,233.3L250.5,235.3L250.9,237.7L253.1,239.3L255.6,238.7L259.0,240.3L262.4,242.1L265.8,243.1L269.2,244.7L271.8,246.9L275.2,247.6L276.2,251.6L276.1,255.2L273.8,258.2L271.8,261.2L269.9,263.6L269.2,267.2L268.7,272.5L267.5,276.7L266.0,280.1L264.1,282.9L259.9,283.5L256.5,285.1L253.9,288.0L252.9,292.0L252.4,294.4L250.5,298.0L248.0,301.0L245.8,304.2L243.7,306.6L241.2,306.8L238.6,306.0L236.2,305.4L238.3,307.9L237.8,309.9L238.6,311.9L236.9,313.5L231.0,314.9L229.6,315.9L229.8,318.1L225.9,318.9L225.0,320.9L227.2,322.1L226.0,322.9L224.7,325.9L221.9,327.0L220.6,329.4L223.3,332.4L220.8,334.8L218.5,337.8L218.0,340.2L219.4,341.6L216.5,342.2L214.8,344.4L211.4,342.8L208.8,340.8L207.5,336.8L207.1,332.8L208.5,329.8L208.0,326.9L210.0,323.9L210.4,320.9L210.0,316.9L210.9,312.9L212.1,308.9L213.6,304.0L213.9,299.0L214.3,294.0L215.0,291.0L215.7,286.1L216.2,281.1L216.0,275.1L215.0,273.7L212.2,271.1L208.8,269.1L206.3,266.2L205.4,264.2L203.7,261.2L202.0,257.2L200.3,253.2L198.6,250.2L197.4,248.2L197.4,245.7L199.1,243.9L198.6,242.3L198.0,240.3L199.1,237.3L199.5,235.3L201.2,234.1L202.0,232.3L203.7,229.7L204.1,226.2L203.7,224.0L203.1,223.0ZM211.4,81.5L223.3,77.1L233.5,74.1L259.0,73.1L281.2,71.1L298.2,73.1L305.0,75.1L315.2,75.1L305.0,79.1L303.3,84.1L304.1,88.1L299.0,93.0L298.2,97.0L293.1,98.4L284.6,101.6L279.5,102.0L272.6,106.4L267.5,108.0L265.8,111.9L263.3,115.9L260.7,117.9L257.3,116.3L253.1,114.9L249.7,110.9L248.0,108.0L244.6,105.0L244.6,101.0L248.8,99.0L242.9,97.0L243.7,95.0L241.2,93.0L237.8,89.0L235.2,86.5L226.7,85.7L219.1,85.7L213.1,83.1ZM325.6,166.1L332.2,167.5L335.6,166.1L340.7,164.1L349.2,163.9L353.0,163.1L354.3,163.9L353.5,165.7L354.5,167.3L352.6,169.2L353.5,170.6L355.2,171.4L357.7,171.8L361.5,173.0L362.3,174.6L366.2,176.0L368.9,176.8L369.6,175.2L369.8,173.0L372.2,171.8L374.9,172.4L378.1,174.0L381.5,174.8L384.9,175.8L387.5,174.8L390.6,175.2L390.9,177.6L392.8,182.0L393.8,182.0L395.0,178.6L393.8,182.0L393.3,183.6L395.5,189.5L398.4,193.5L398.9,198.5L401.1,201.5L402.8,206.5L405.7,209.4L407.9,211.8L409.3,213.6L411.3,216.6L414.7,215.8L419.0,214.8L422.7,213.6L422.4,216.6L421.5,219.4L419.8,223.4L417.3,228.3L413.9,233.3L409.6,238.3L406.7,240.9L404.0,243.3L402.3,246.9L401.6,250.2L402.8,253.2L403.3,257.2L404.5,259.2L404.7,266.2L403.3,270.1L398.6,273.1L395.7,277.1L396.0,281.1L396.0,285.1L391.7,288.0L391.4,292.0L390.7,295.0L388.3,297.0L386.6,299.6L383.2,303.0L379.8,304.6L376.4,305.2L373.0,305.2L369.6,306.6L367.1,305.4L366.7,303.0L366.2,301.0L365.0,298.0L363.7,294.2L361.6,291.0L361.0,288.0L360.3,283.1L359.4,280.1L358.2,277.5L356.0,274.1L355.7,271.7L356.4,268.1L356.9,264.2L359.1,259.2L358.1,255.2L356.7,250.2L356.4,248.2L354.7,245.3L352.3,242.3L351.4,239.3L351.8,235.3L352.3,231.3L350.9,229.3L350.1,228.3L347.5,228.5L345.8,228.7L344.1,226.4L343.3,224.8L339.9,224.8L337.3,225.4L333.9,227.4L332.2,227.7L328.8,227.0L326.2,227.4L322.8,228.5L320.3,227.4L317.7,225.0L316.0,223.6L314.3,222.4L313.0,220.4L312.6,218.4L310.9,216.4L310.1,215.4L307.5,212.8L307.0,210.4L306.3,208.4L307.2,206.5L307.9,203.5L308.2,200.5L307.9,198.5L306.8,195.5L307.5,192.5L308.7,189.5L310.4,186.6L312.1,184.6L314.3,182.0L316.9,180.6L319.1,178.6L318.9,175.6L319.8,172.6L322.0,170.4L324.0,169.2L325.4,166.7L325.6,166.1ZM528.7,281.1L529.9,280.7L534.3,278.3L538.1,277.1L541.5,276.1L543.5,273.1L545.7,271.1L547.4,268.1L550.0,265.6L553.0,265.6L555.1,266.8L556.3,267.5L557.1,263.2L558.5,261.6L561.2,261.4L561.2,260.0L562.7,260.8L565.3,261.6L568.4,261.2L567.0,264.2L566.1,267.2L568.7,268.9L572.1,271.7L575.2,272.1L576.3,267.2L576.5,262.6L578.0,258.6L579.8,262.6L581.5,265.8L583.0,267.2L583.2,270.5L584.5,274.7L588.8,277.7L590.3,281.7L592.2,282.5L593.0,285.1L596.1,287.6L596.8,293.0L595.9,299.0L595.1,302.0L592.9,304.8L591.2,308.1L590.6,311.9L587.4,312.5L584.5,315.1L582.1,312.7L579.8,314.5L575.5,313.1L573.5,311.5L573.1,309.1L570.6,308.3L571.2,306.0L570.1,307.3L568.4,307.5L569.5,305.0L570.1,303.0L566.8,306.6L565.6,304.6L563.9,302.4L558.8,300.0L554.9,300.4L550.0,301.6L546.6,303.0L545.7,304.8L539.8,305.0L536.4,307.0L533.0,307.0L531.3,305.6L532.5,303.6L532.5,300.2L531.3,297.0L530.6,294.2L529.6,291.0L528.7,289.0L528.7,286.1L529.2,283.1L528.7,281.1ZM230.3,104.8L228.1,107.4L225.3,111.5L222.5,113.1L219.1,113.3L214.8,111.3L209.7,109.1L203.7,108.9L202.9,107.2L209.7,105.6L211.4,103.0L208.0,101.0L202.9,98.4L196.1,98.4L191.0,98.0L184.2,95.0L183.3,90.8L191.0,90.4L199.5,90.6L204.6,92.4L209.7,94.4L213.9,96.0L218.2,98.0L220.8,99.2L222.5,101.4L226.7,103.2L229.3,104.0ZM208.0,84.1L199.5,85.5L184.2,85.3L182.5,82.1L189.3,79.1L179.1,76.1L191.0,73.5L208.0,72.1L230.1,73.1L228.4,75.5L221.6,77.5L214.8,79.9L208.0,81.7ZM198.6,88.8L185.9,89.0L178.2,87.5L179.1,84.9L185.9,85.1L196.1,85.5L200.3,87.1ZM187.6,78.1L175.7,75.5L170.6,77.1L174.0,81.1L179.9,81.1L185.0,79.5ZM162.9,99.6L155.3,100.0L146.7,101.0L139.9,99.6L134.8,98.0L135.7,95.6L133.1,94.6L136.5,92.6L142.5,92.0L148.4,92.6L154.4,91.4L158.7,95.0L162.1,97.0ZM138.2,91.6L132.3,95.0L127.2,95.6L122.4,94.0L123.6,90.4L129.7,89.0L135.7,89.6ZM157.8,86.1L150.1,87.7L143.3,88.4L136.5,87.1L139.1,85.1L146.7,85.1L151.8,84.7L156.1,85.7ZM170.6,94.0L168.9,96.0L165.5,95.0L162.1,93.0L163.8,91.4L168.9,90.4L170.6,92.0ZM177.4,94.0L174.0,94.0L172.3,92.0L175.7,90.0L180.8,90.4L181.6,92.0ZM198.6,110.7L191.0,111.9L187.6,109.9L189.3,107.0L194.4,106.0L197.8,108.9ZM172.3,101.0L167.2,100.4L168.0,98.4L172.3,98.6ZM177.4,88.4L171.4,88.4L170.6,86.1L175.7,85.5L178.2,86.9ZM168.9,88.1L164.6,88.1L163.8,85.5L168.9,85.5ZM139.9,83.7L131.4,86.1L126.3,85.1L134.8,82.5ZM160.4,81.5L155.3,82.1L155.3,80.1L160.4,79.7ZM201.2,112.9L198.6,113.9L196.1,112.9L198.6,111.9ZM234.5,142.6L240.3,142.8L245.4,144.4L245.9,142.8L244.6,140.8L245.4,138.8L241.2,138.2L240.3,134.6L238.6,135.4L235.7,139.2L234.5,141.4ZM125.6,141.2L122.9,140.2L117.5,136.6L119.5,136.4L122.1,137.4L124.3,139.0ZM111.0,133.4L112.7,132.8L110.2,129.8L109.3,130.8ZM191.2,193.7L193.5,191.7L196.1,191.3L198.6,191.5L202.0,192.7L204.3,194.3L206.8,195.3L209.4,197.1L207.7,197.7L203.4,197.7L204.1,196.3L202.6,194.9L199.8,194.1L196.4,193.1L194.4,193.5L191.8,193.9ZM209.0,200.7L211.7,197.7L215.7,197.9L219.2,200.3L216.5,201.1L214.1,202.3L211.7,201.3ZM202.4,200.7L205.8,201.3L205.1,201.7L202.6,201.1ZM221.3,200.5L224.0,200.7L223.8,201.5L221.3,201.5ZM226.7,138.0L230.6,139.6L227.6,139.0ZM74.4,122.3L76.5,122.9L73.9,124.1ZM52.3,130.0L50.6,130.8L48.9,131.2L52.3,130.8ZM46.4,132.2L45.0,132.6ZM40.4,133.4L39.0,133.6ZM33.6,134.2L32.4,134.4ZM70.4,197.1L71.9,198.1L70.9,199.7ZM68.0,195.1L70.2,195.9ZM66.3,194.3L67.3,194.9ZM63.9,193.1L64.6,193.7ZM48.9,111.9L43.8,110.5L46.4,111.3ZM53.2,117.1L54.4,117.5ZM231.5,339.6L235.2,339.4L237.3,340.0L235.2,341.4L232.7,341.2ZM218.9,342.0L216.5,342.8L213.9,344.8L216.5,346.8L221.6,347.1L224.7,346.4L222.5,345.4L219.4,343.4ZM179.9,237.9L180.4,239.3L181.6,238.7ZM210.5,320.5L209.4,321.3L209.7,323.7L210.5,322.5ZM203.7,187.7L202.6,188.5L202.9,187.2ZM204.1,184.6L203.1,184.2ZM178.9,144.4L183.3,141.8L185.9,140.0L188.4,140.4L191.3,144.0L189.3,144.8L185.9,144.0L181.6,144.6ZM186.2,154.3L186.2,149.7L186.7,146.8L188.4,146.0L191.0,146.2L190.1,148.1L188.6,150.7L188.3,153.7ZM191.8,146.0L193.5,146.0L196.9,146.8L198.6,147.4L196.6,149.7L195.2,151.7L193.5,149.7L192.7,148.5ZM193.7,154.3L197.8,153.1L201.2,151.9L200.3,152.7L196.9,154.7ZM199.8,151.1L205.8,150.7L205.4,149.3L201.2,150.1ZM170.2,137.0L171.4,134.8L168.0,130.4L166.8,131.4L169.7,134.8ZM136.5,115.5L139.9,115.9L145.0,114.9L150.1,112.9L145.9,112.3L140.8,113.3ZM122.9,108.0L126.3,105.6L131.4,104.0L134.8,105.6L129.7,107.6ZM145.0,120.9L150.1,119.5L151.8,118.7L146.7,119.5ZM383.2,155.1L385.1,155.3L389.2,155.3L392.6,153.7L395.1,153.7L399.4,155.5L402.8,155.7L406.2,154.7L406.4,152.5L403.7,150.7L400.6,148.9L398.9,147.2L395.1,147.8L392.6,148.7L390.9,147.0L392.8,145.8L389.2,144.6L387.0,146.2L386.0,147.2L384.3,149.3L383.1,152.3L383.2,155.1ZM419.0,144.6L422.4,143.8L425.8,144.2L426.1,147.2L422.9,148.7L422.0,149.7L425.1,153.7L425.4,155.7L425.8,158.7L427.3,163.1L423.2,164.1L420.7,162.9L419.0,161.3L419.8,157.3L418.1,154.1L416.4,151.7L416.4,148.7L415.2,147.9L416.4,146.6L419.0,144.6ZM434.6,144.8L439.4,144.4L440.2,147.4L437.7,150.3L435.1,150.1L434.6,147.4ZM461.5,144.8L466.6,144.6L470.0,145.0L464.9,146.2ZM390.9,236.7L393.4,236.9L393.4,239.3L391.7,242.3L389.7,240.3ZM385.8,244.3L386.3,250.2L388.0,254.2L387.0,251.2ZM394.3,256.2L395.1,259.2L394.8,265.2L394.1,261.2ZM511.7,134.8L515.1,132.8L521.1,126.9L521.9,127.9L516.8,133.2L512.5,135.2ZM358.6,210.4L360.3,209.8L360.8,212.0L359.4,211.8ZM388.3,115.9L390.9,115.5L390.0,117.9ZM395.1,114.9L396.3,112.9L396.9,115.3ZM325.9,137.8L328.8,137.0L333.0,136.6L338.0,135.4L338.5,132.4L336.1,131.0L335.1,129.8L333.4,128.2L332.9,126.7L331.2,125.5L332.5,122.9L330.5,122.5L328.8,122.7L330.5,120.7L327.1,120.7L325.7,122.9L326.1,125.3L325.1,125.1L327.1,126.5L327.4,128.0L330.0,128.0L330.0,129.4L330.7,131.0L327.8,131.2L328.5,132.2L328.6,133.2L326.6,134.2L330.2,135.0L327.9,135.8ZM325.4,133.4L325.1,130.8L325.9,128.8L324.9,127.5L322.8,127.3L321.1,128.8L318.6,129.4L318.9,131.2L318.1,133.4L319.4,134.6L322.0,134.2L324.7,133.4ZM297.3,109.9L294.8,108.1L297.3,107.0L294.8,106.8L297.7,105.2L304.1,105.6L308.4,105.0L310.9,106.0L312.5,107.8L310.4,109.3L305.0,110.9L299.9,110.3ZM354.3,81.1L362.8,78.1L373.0,77.3L381.5,77.7L373.0,81.1L369.6,83.1L364.5,84.1L359.4,83.1ZM424.1,95.4L428.3,91.6L430.9,89.0L437.7,85.7L452.1,84.3L446.2,87.1L436.0,90.0L432.6,93.6L430.0,96.4L426.6,96.4ZM408.8,77.5L415.6,76.5L425.8,75.5L434.3,76.7L422.4,78.1ZM498.1,80.1L502.3,76.5L512.5,79.1L505.7,81.1ZM568.7,88.1L578.9,86.5L577.2,90.4L570.4,90.0ZM582.3,87.5L589.1,87.1L585.7,88.4ZM639.3,95.8L641.9,94.8L643.6,95.6ZM29.3,94.8L33.6,95.4L31.0,96.2ZM577.2,145.8L579.8,144.8L578.9,138.8L581.5,139.8L579.2,135.8L579.8,131.8L578.4,129.0L577.5,130.8L576.7,134.8L577.5,137.8L577.0,142.8ZM573.8,154.7L575.8,154.1L579.2,153.7L583.2,151.1L582.6,149.1L577.2,146.8L576.3,150.7L574.3,151.3L573.6,153.1ZM575.3,154.7L576.3,157.1L577.0,159.7L575.3,162.7L575.0,165.7L574.1,167.3L572.4,167.3L571.2,168.2L569.5,168.4L568.4,168.8L566.7,170.6L565.3,168.6L562.7,169.0L560.5,170.0L558.3,169.6L559.3,168.2L561.9,166.7L566.1,166.5L567.8,163.7L569.4,162.9L572.1,161.7L573.5,158.7L574.0,156.1ZM556.3,171.2L557.6,175.2L559.0,174.6L560.2,171.6L558.5,169.8ZM561.0,171.2L564.8,170.0L563.9,169.0L561.7,169.6ZM539.9,191.5L541.5,187.2L543.2,187.6L542.3,190.5L541.1,193.5ZM520.4,199.1L522.8,197.3L524.5,198.3L521.9,201.1ZM471.4,221.4L472.1,217.8L474.9,222.4L473.8,225.0L471.7,225.0ZM539.8,205.5L540.6,200.5L543.5,200.5L543.7,203.5L542.3,205.9L543.2,208.8L546.6,211.4L544.9,210.4L541.0,208.4ZM543.2,223.4L546.6,220.4L550.0,218.8L550.8,223.4L549.1,225.4L546.6,223.8ZM546.9,212.4L549.5,213.0L548.6,216.4L547.4,215.0ZM544.0,215.8L545.2,214.4L545.7,217.4ZM535.0,220.6L538.9,216.4L538.1,215.8ZM521.1,234.3L522.1,233.3L524.5,234.1L527.9,230.9L532.1,227.4L534.7,223.6L538.4,227.0L536.4,228.5L536.0,233.3L538.1,235.3L535.5,237.3L533.8,241.3L533.8,244.3L530.4,245.3L527.9,243.7L525.3,244.1L523.1,242.9L522.8,239.9L521.1,237.3ZM497.7,226.2L501.5,227.0L503.2,228.9L506.6,232.9L509.1,234.7L512.2,238.9L513.4,242.3L515.9,243.7L515.6,248.8L513.4,248.8L509.7,245.3L507.1,241.3L504.9,237.3L503.2,233.9L499.8,230.1ZM514.6,250.8L515.9,249.0L519.9,249.6L522.8,251.0L527.0,251.0L530.2,252.6L530.4,254.6L526.2,254.0L522.8,253.4L518.5,252.4L516.6,252.0ZM538.7,248.2L539.1,244.3L537.7,242.9L538.9,237.3L539.8,235.9L541.5,234.7L544.9,235.3L547.9,234.3L547.1,236.5L541.5,236.3L540.3,239.1L542.3,240.9L545.4,238.9L544.5,242.5L543.5,244.3L544.5,246.3L542.3,246.9L541.5,243.3L540.3,242.9L540.4,248.2ZM531.3,253.6L533.0,254.8L538.1,254.6L540.6,253.8L543.2,254.2L544.9,253.8L542.3,255.0L538.9,255.0L534.7,255.2ZM538.1,256.2L541.1,256.6L540.1,257.8ZM546.6,257.2L548.6,254.2L552.2,254.0L550.0,255.8ZM552.5,233.7L553.4,238.3L554.6,235.3L553.7,232.9ZM553.4,243.3L558.1,243.9L555.9,244.9ZM550.0,243.7L552.0,243.9L550.8,244.9ZM558.5,239.3L560.7,238.1L563.6,239.1L565.3,243.9L570.1,240.3L575.5,242.5L581.5,244.9L583.7,247.8L586.7,249.2L587.1,250.8L589.1,255.2L592.2,257.6L590.0,258.0L585.7,257.2L584.0,253.6L580.6,252.6L579.2,255.2L575.5,255.4L572.1,253.2L570.4,252.8L570.1,247.8L566.1,245.9L561.9,245.3L560.2,242.9L562.7,241.7L560.2,240.9ZM588.3,248.2L591.7,248.2L594.2,245.7L593.4,247.2L590.8,249.8ZM592.2,242.7L595.1,244.3L595.9,246.3L593.4,243.3ZM599.3,249.2L601.0,250.8L600.2,251.2ZM602.7,253.2L606.1,253.2L609.2,256.2L607.0,256.2ZM608.7,254.2L610.4,256.2L609.2,256.2ZM618.9,267.2L620.2,268.1L619.7,269.1ZM614.6,277.5L618.0,279.1L619.7,281.7L616.3,280.1ZM637.3,272.1L639.3,271.7L639.0,273.5L637.3,273.3ZM581.6,318.3L587.9,318.7L587.7,321.3L585.7,324.1L583.2,322.9L582.0,320.5ZM629.4,305.8L632.2,307.5L633.3,309.9L634.9,311.9L638.4,312.1L639.3,312.3L636.7,315.3L636.4,316.9L633.9,320.1L632.7,319.3L633.3,316.7L631.3,315.3L632.7,312.9L632.2,309.9ZM629.4,317.9L632.2,319.5L631.5,321.9L629.6,324.3L626.9,325.9L626.2,328.6L623.1,330.0L618.9,328.8L619.2,326.9L621.9,324.9L625.7,322.9L627.4,320.3ZM419.5,261.2L421.5,268.1L420.0,271.1L418.1,278.1L416.4,285.1L415.6,287.1L412.2,288.0L410.5,286.1L409.3,281.1L411.0,277.1L410.5,272.1L414.7,268.7L417.3,264.2ZM349.6,155.7L352.3,155.7L351.9,159.3L350.1,159.7ZM350.2,151.7L351.8,152.1L351.4,154.9L350.2,154.1ZM356.7,161.7L362.1,161.1L361.3,164.3L356.9,162.5ZM375.6,166.7L380.3,167.3L377.3,167.8ZM390.6,167.7L394.3,166.5L392.6,168.4ZM339.9,158.5L341.4,158.1L341.0,159.1ZM353.5,126.9L356.9,125.9L356.5,127.5L354.3,127.9ZM305.8,181.6L309.2,181.2L312.6,179.6ZM292.2,162.1L292.7,162.3ZM294.8,205.5L296.8,204.1L295.6,207.5ZM409.3,260.2L411.1,261.6ZM429.7,278.9L430.5,279.7ZM433.3,277.1L433.9,277.9ZM460.7,228.9L460.8,229.7ZM426.6,212.4L428.3,212.2ZM493.0,211.4L493.8,213.4L493.3,215.4ZM29.3,270.1L29.7,270.7ZM43.0,264.4L43.8,265.2ZM81.2,272.1L81.8,272.7ZM37.5,279.3L37.9,279.7ZM63.4,279.5h1M618.9,328.4L620.6,331.2L621.8,330.4ZM454.7,334.8L455.5,336.0L453.5,335.4ZM273.5,344.8L270.9,345.2L274.3,346.0ZM232.2,361.7L236.1,361.1ZM393.8,175.0L395.0,172.6L396.0,169.8L396.7,166.7L396.9,164.5L396.0,164.5L393.4,165.3L390.9,165.5L387.5,164.7L384.9,164.3L382.4,163.7L380.7,160.7L380.7,157.7L380.2,156.5L378.1,155.9L375.6,157.1L374.1,156.7L375.2,159.1L373.9,160.7L376.4,161.7L374.7,162.7L373.9,164.7L372.5,163.7L371.5,161.1L370.0,158.3L368.6,155.7L368.8,153.7L367.1,152.7L364.5,151.1L362.7,150.3L359.9,147.4L358.7,146.6L356.5,147.2L356.7,149.1L358.6,150.5L359.8,152.9L362.7,153.9L363.7,155.3L367.1,157.5L364.7,159.7L363.8,161.1L362.1,161.7L362.5,158.7L361.1,157.3L358.6,155.3L356.0,153.7L353.5,151.7L353.0,149.9L350.6,148.9L348.4,150.1L345.8,151.5L343.3,150.7L341.0,151.3L341.0,153.9L337.3,155.7L335.6,158.1L335.1,158.9L335.9,160.1L334.7,161.3L333.9,162.5L331.9,164.3L328.1,164.3L326.1,165.7L324.9,164.1L322.8,163.3L320.5,163.7L320.6,160.7L319.4,160.3L320.3,157.7L320.6,154.7L320.5,152.7L319.8,151.7L322.0,150.3L325.7,150.5L329.6,150.7L332.5,150.9L333.2,148.7L333.6,145.8L331.9,143.4L327.9,142.0L327.9,140.6L330.5,140.2L333.0,140.4L332.9,138.6L335.9,138.8L338.2,137.4L338.3,136.0L339.9,135.6L341.7,135.0L343.3,133.4L343.8,131.8L345.8,130.8L347.5,130.8L350.1,130.6L350.2,128.0L349.7,126.9L349.4,124.7L350.2,123.7L352.6,122.7L353.5,123.5L353.1,125.5L354.0,125.9L352.3,127.9L354.1,129.2L356.0,129.4L358.6,129.0L360.3,130.0L363.7,128.8L367.1,128.4L369.1,129.0L371.7,127.5L371.3,124.9L372.2,122.9L373.9,122.5L375.6,123.9L376.9,122.9L376.9,121.3L375.6,120.1L378.1,118.9L383.2,118.9L386.6,117.9L384.1,116.7L380.7,117.1L374.6,118.1L372.2,116.3L372.0,113.9L371.7,111.9L373.9,110.3L377.3,108.1L378.6,107.0L377.3,106.4L373.5,106.4L372.0,108.9L369.6,110.5L367.1,112.3L365.2,114.9L364.9,116.7L367.2,117.9L367.1,119.3L363.7,122.3L363.7,124.9L361.1,125.5L359.8,127.1L357.5,126.7L357.0,125.3L355.8,122.9L354.7,120.1L353.5,118.9L352.6,119.9L350.1,121.3L347.5,121.9L345.1,120.7L344.4,117.9L344.1,114.9L345.0,113.3L347.5,112.3L350.1,110.9L353.5,108.9L356.9,106.4L358.6,103.4L361.1,101.4L363.7,100.0L367.1,98.4L371.3,97.6L374.7,97.0L379.0,96.0L383.2,96.0L386.6,97.4L388.3,98.0L390.9,98.6L392.6,99.4L397.7,100.0L402.8,102.0L405.4,103.4L405.5,106.0L401.1,105.8L395.1,105.2L394.3,108.0L397.7,109.1L399.4,110.3L402.8,108.9L404.5,108.7L407.1,105.4L410.5,106.0L410.8,103.0L409.6,101.0L413.9,102.0L417.3,102.6L421.5,101.6L426.6,101.0L430.0,101.2L434.3,100.2L437.7,100.0L439.4,98.4L444.5,99.2L449.6,101.0L452.1,101.4L448.7,97.0L449.6,95.0L452.1,92.4L453.8,92.0L456.4,92.4L459.0,95.0L458.1,98.0L459.8,101.0L460.8,99.0L462.4,96.8L459.8,95.0L459.0,92.4L464.1,93.6L468.3,93.2L472.6,91.0L476.8,92.0L482.8,90.4L484.5,88.1L488.7,86.9L493.8,86.1L500.6,85.7L505.7,85.3L512.5,82.7L516.8,83.3L518.5,84.9L524.5,84.7L528.7,86.5L529.2,90.0L527.0,90.6L529.6,91.0L536.4,91.0L539.8,92.0L546.6,90.8L551.7,91.0L555.1,93.0L558.5,96.0L561.9,95.2L567.0,94.8L572.1,95.0L573.8,93.2L578.9,92.6L584.0,93.4L590.8,94.8L594.2,96.2L599.3,96.0L604.4,96.2L607.8,97.6L611.2,98.8L616.3,98.8L619.7,98.4L624.8,97.8L628.2,98.2L633.3,98.4L638.4,99.2L642.7,100.2M641.0,108.0L639.3,108.7L637.6,112.9L632.5,114.3L628.2,116.3L625.3,117.9L621.4,116.9L618.0,118.3L614.6,118.1L613.8,119.9L611.2,121.9L613.3,122.3L612.1,125.5L610.7,127.9L608.7,129.8L605.8,132.0L602.2,135.8L601.0,132.8L600.7,128.8L600.2,124.9L602.2,122.3L605.3,121.7L607.8,118.7L608.7,114.3L604.4,114.3L599.3,119.3L594.2,119.9L589.1,118.9L584.0,119.3L578.9,119.3L573.8,121.5L569.5,124.7L567.5,128.4L571.2,129.8L574.6,131.2L576.2,133.4L574.6,137.8L573.8,141.8L571.2,143.8L568.7,146.8L566.1,150.1L561.9,152.1L559.3,152.7L558.0,153.1L556.3,155.7L555.9,157.7L553.4,159.7L555.8,163.7L555.6,166.7L552.5,168.4L550.5,168.6L551.0,166.7L550.8,163.7L548.8,162.3L547.9,158.7L543.5,159.7L541.8,160.1L542.8,157.7L543.5,156.5L541.5,156.1L538.9,157.9L537.2,159.5L535.9,160.1L537.2,161.7L538.1,163.3L540.6,162.3L544.0,162.9L543.2,164.1L540.6,165.5L538.4,167.7L540.3,169.0L541.3,172.4L543.0,174.2L542.7,175.8L543.0,177.6L542.3,180.6L540.6,182.6L538.9,185.6L537.2,188.5L534.7,190.5L532.1,191.9L528.7,193.1L525.3,194.5L523.1,196.9L522.2,194.5L520.2,194.3L517.6,195.5L516.8,197.1L515.4,199.5L516.8,202.5L518.5,204.9L520.7,207.1L521.6,210.4L521.4,214.2L519.4,215.8L517.3,216.8L514.2,220.2L513.9,217.8L513.4,216.6L510.8,214.4L509.7,213.0L507.4,212.0L505.7,210.8L505.7,213.0L504.4,216.4L505.4,219.4L506.3,222.4L508.0,223.6L509.7,225.4L511.4,227.7L511.5,230.3L512.9,234.3L511.7,234.7L510.0,233.3L508.0,231.7L506.4,228.3L506.3,225.4L505.2,223.6L503.0,221.4L503.2,217.8L503.4,215.4L502.7,211.4L501.8,206.5L501.0,203.9L499.8,204.5L497.7,205.9L496.0,205.5L496.4,202.5L495.5,199.5L493.8,197.7L492.6,196.1L492.1,193.9L490.8,192.3L489.2,193.7L487.0,194.1L485.7,194.1L483.3,195.5L482.8,197.5L480.2,198.9L477.7,201.5L475.6,204.3L473.4,205.9L472.1,207.5L472.1,211.4L471.4,214.4L471.4,216.8L469.8,218.8L468.8,219.6L467.5,221.2L465.8,218.4L464.6,215.4L462.9,211.8L461.8,207.8L460.7,204.5L459.6,199.7L459.5,196.5L459.1,194.7L458.6,193.1L455.5,195.7L453.0,192.9L455.2,191.7L452.1,190.5L450.3,189.5L449.1,186.8L445.3,187.0L440.2,187.2L436.8,186.6L433.1,186.0L432.2,183.4L431.2,183.4L428.3,184.4L425.8,183.6L423.2,181.8L421.5,179.2L419.8,177.6L417.3,177.6L417.8,179.0L418.1,181.0L419.8,183.6L420.7,185.0L421.7,187.6L422.9,185.6L423.4,187.6L424.9,189.1L427.5,189.1L430.0,186.6L431.4,185.2L431.6,187.7L433.4,189.9L435.6,190.5L437.3,192.7L435.1,196.5L433.9,199.5L431.7,201.5L429.2,203.5L424.4,206.3L419.8,208.2L417.3,209.4L413.0,211.4L409.6,212.2L408.8,209.4L408.2,206.1L407.1,202.5L405.2,198.5L402.3,194.5L401.1,190.5L398.9,186.6L396.3,182.6L395.0,178.6L393.8,175.0M30.2,100.2L34.5,101.6L38.7,103.8L43.0,104.2L46.4,105.6L43.8,107.0L42.1,108.0L40.4,109.1L37.0,108.3L34.5,107.0L31.0,107.6L28.5,108.0M29.0,403.5L51.5,405.8L68.0,407.3L86.0,406.2L74.0,403.5L72.5,399.8L86.0,397.5L74.0,395.7L65.0,390.8L86.0,389.3L98.0,387.0L104.0,385.5L116.0,387.8L125.0,382.5L129.0,383.3L162.6,379.8L190.0,379.5L205.5,381.3L205.5,377.5L208.5,376.0L214.5,374.5L217.5,370.0L225.0,365.5L228.0,364.0L234.0,362.5L241.6,362.5L229.5,366.3L228.0,370.0L228.0,374.5L231.8,379.0L232.5,382.0L229.5,385.0L223.5,388.0L220.5,390.3L232.5,389.8L244.6,391.8L255.0,392.5L270.0,392.3L280.0,390.3L287.0,387.6L305.5,384.4L336.0,376.0L393.6,373.8L428.0,367.8L450.0,368.0L455.8,376.0L460.0,372.0L474.0,371.5L511.0,366.9L543.4,367.8L560.0,368.5L570.0,368.7L580.0,370.0L587.4,373.0L600.0,373.7L610.0,375.6L620.0,378.0L627.3,379.3L622.3,382.4L615.0,386.2L613.6,390.0L617.4,392.4L610.0,393.6L608.6,396.0L613.6,399.9L622.3,402.4L627.3,403.4L643.0,403.4M56.0,393.0L62.0,393.0L62.0,396.0L56.0,396.0ZM618.6,390.5L624.8,390.5ZM123.0,85.5L131.0,84.0L139.0,82.5L145.0,81.0L150.0,81.5L155.0,84.0L160.0,85.0L165.0,85.5L170.0,87.0L172.0,85.5L176.0,87.0L176.0,89.0L168.0,89.5L160.0,88.5L150.0,87.5L140.0,87.5L130.0,88.0L123.0,88.0ZM122.0,90.5L132.0,90.0L142.0,89.8L152.0,91.0L158.0,92.5L165.0,92.0L171.0,91.0L172.0,93.5L165.0,95.0L155.0,95.0L145.0,94.0L135.0,94.5L125.0,94.0ZM121.0,96.5L130.0,96.0L140.0,95.8L150.0,96.5L160.0,97.0L168.0,97.5L170.0,99.5L160.0,100.0L150.0,99.5L138.0,99.8L128.0,99.5L121.0,99.0ZM174.0,78.0L182.0,77.0L190.0,77.5L190.0,81.0L183.0,82.0L176.0,81.0ZM175.0,91.0L182.0,89.0L190.0,89.0L190.0,95.0L183.0,96.0L176.0,94.5ZM170.0,101.0L176.0,99.0L182.0,100.0L186.0,103.0L180.0,104.0L172.0,103.5ZM140.0,79.5L148.0,78.5L156.0,79.0L150.0,80.5ZM128.0,82.0L135.0,81.0L138.0,82.5L131.0,83.2Z" fill="none" stroke="#000" stroke-width="1.2" stroke-linejoin="round"/>
<path d="M49.8,117.4H160.8M90.0,99.0H160.8M160.8,99.0V176.3M114.8,117.4V132.5M160.8,136.7H236.4M190.5,136.7V189.7M234.2,136.7V157.5M141.0,177.0H190.5M190.5,190.2H223.5M197.8,211.4H233.6M197.8,211.4V216.4M183.0,216.4H197.8M211.0,276.5H273.2M412.0,97.4H643.0M403.0,100.5V176.3M403.0,137.7H585.8M318.6,140.2H403.0M462.2,137.7V176.3M505.6,137.7V228.0M305.0,176.3H505.6M304.2,201.3H436.5M373.8,201.3V260.2M350.5,260.2H426.2M505.6,197.8H552.3M489.5,226.8H505.6M445.6,176.3V194.0M502.0,258.0H598.5M521.4,292.2H643.0" fill="none" stroke="#1a1a1a" stroke-width="1.1"/>
</g>
<rect x="107.8" y="86.6" width="11.7" height="11.6" fill="#52a844" stroke="#111" stroke-width="1.1"/><path d="M109.3,92.4H117.9M113.6,88.0V96.8" stroke="#111" stroke-width="1.25"/><rect x="107.8" y="98.2" width="11.7" height="11.6" fill="#a8d870" stroke="#111" stroke-width="1.1"/><path d="M110.7,104.0H116.5M113.6,101.1V106.9" stroke="#111" stroke-width="1.25"/><rect x="130.9" y="135.9" width="11.7" height="11.6" fill="#a8d870" stroke="#111" stroke-width="1.1"/><path d="M133.8,141.7H139.6M136.7,138.8V144.6" stroke="#111" stroke-width="1.25"/><rect x="130.9" y="147.5" width="11.7" height="11.6" fill="#a7a9ab" stroke="#111" stroke-width="1.1"/><path d="M136.7,149.1V157.5" stroke="#111" stroke-width="1.25"/><rect x="168.6" y="146.6" width="11.7" height="11.6" fill="#a7a9ab" stroke="#111" stroke-width="1.1"/><path d="M174.4,148.2V156.6" stroke="#111" stroke-width="1.25"/><rect x="168.6" y="158.2" width="11.7" height="11.6" fill="#a7a9ab" stroke="#111" stroke-width="1.1"/><path d="M174.4,159.8V168.2" stroke="#111" stroke-width="1.25"/><rect x="189.6" y="103.5" width="11.7" height="11.6" fill="#52a844" stroke="#111" stroke-width="1.1"/><path d="M191.1,109.3H199.7M195.4,104.9V113.8" stroke="#111" stroke-width="1.25"/><rect x="189.6" y="115.1" width="11.7" height="11.6" fill="#a8d870" stroke="#111" stroke-width="1.1"/><path d="M192.5,120.9H198.3M195.4,118.0V123.8" stroke="#111" stroke-width="1.25"/><rect x="206.6" y="152.6" width="11.7" height="11.6" fill="#a8d870" stroke="#111" stroke-width="1.1"/><path d="M209.5,158.4H215.3M212.4,155.5V161.3" stroke="#111" stroke-width="1.25"/><rect x="206.6" y="164.2" width="11.7" height="11.6" fill="#a7a9ab" stroke="#111" stroke-width="1.1"/><path d="M212.4,165.8V174.2" stroke="#111" stroke-width="1.25"/><rect x="165.9" y="188.8" width="11.7" height="11.6" fill="#f9d56c" stroke="#111" stroke-width="1.1"/><path d="M168.8,194.6H174.6" stroke="#111" stroke-width="1.25"/><rect x="165.9" y="200.3" width="11.7" height="11.6" fill="#f9d56c" stroke="#111" stroke-width="1.1"/><path d="M168.8,206.2H174.6" stroke="#111" stroke-width="1.25"/><rect x="232.4" y="235.6" width="11.7" height="11.6" fill="#a7a9ab" stroke="#111" stroke-width="1.1"/><path d="M238.2,237.2V245.6" stroke="#111" stroke-width="1.25"/><rect x="232.4" y="247.2" width="11.7" height="11.6" fill="#a7a9ab" stroke="#111" stroke-width="1.1"/><path d="M238.2,248.8V257.2" stroke="#111" stroke-width="1.25"/><rect x="232.4" y="288.6" width="11.7" height="11.6" fill="#a7a9ab" stroke="#111" stroke-width="1.1"/><path d="M238.2,290.2V298.6" stroke="#111" stroke-width="1.25"/><rect x="232.4" y="300.2" width="11.7" height="11.6" fill="#a7a9ab" stroke="#111" stroke-width="1.1"/><path d="M238.2,301.8V310.2" stroke="#111" stroke-width="1.25"/><rect x="364.4" y="108.8" width="11.7" height="11.6" fill="#a8d870" stroke="#111" stroke-width="1.1"/><path d="M367.3,114.5H373.1M370.2,111.6V117.5" stroke="#111" stroke-width="1.25"/><rect x="364.4" y="120.3" width="11.7" height="11.6" fill="#f9d56c" stroke="#111" stroke-width="1.1"/><path d="M367.3,126.1H373.1" stroke="#111" stroke-width="1.25"/><rect x="368.4" y="146.6" width="11.7" height="11.6" fill="#ffffff" stroke="#111" stroke-width="1.1"/><circle cx="374.2" cy="152.4" r="3.0" fill="none" stroke="#111" stroke-width="1.3"/><rect x="368.4" y="158.2" width="11.7" height="11.6" fill="#c08a4a" stroke="#111" stroke-width="1.1"/><path d="M369.9,164.0H378.5" stroke="#111" stroke-width="1.4"/><rect x="382.6" y="178.6" width="11.7" height="11.6" fill="#a7a9ab" stroke="#111" stroke-width="1.1"/><rect x="382.6" y="190.2" width="11.7" height="11.6" fill="#52a844" stroke="#111" stroke-width="1.1"/><path d="M384.1,196.0H392.7M388.4,191.6V200.4" stroke="#111" stroke-width="1.25"/><rect x="341.6" y="222.6" width="11.7" height="11.6" fill="#a8d870" stroke="#111" stroke-width="1.1"/><path d="M344.5,228.4H350.3M347.4,225.5V231.3" stroke="#111" stroke-width="1.25"/><rect x="341.6" y="234.2" width="11.7" height="11.6" fill="#ffffff" stroke="#111" stroke-width="1.1"/><circle cx="347.4" cy="240.0" r="3.0" fill="none" stroke="#111" stroke-width="1.3"/><rect x="399.2" y="223.2" width="11.7" height="11.6" fill="#a8d870" stroke="#111" stroke-width="1.1"/><path d="M402.2,229.1H408.0M405.1,226.2V232.0" stroke="#111" stroke-width="1.25"/><rect x="399.2" y="234.8" width="11.7" height="11.6" fill="#a7a9ab" stroke="#111" stroke-width="1.1"/><path d="M405.1,236.5V244.8" stroke="#111" stroke-width="1.25"/><rect x="374.9" y="270.6" width="11.7" height="11.6" fill="#a7a9ab" stroke="#111" stroke-width="1.1"/><path d="M380.7,272.2V280.6" stroke="#111" stroke-width="1.25"/><rect x="374.9" y="282.2" width="11.7" height="11.6" fill="#f9d56c" stroke="#111" stroke-width="1.1"/><path d="M377.8,288.0H383.6" stroke="#111" stroke-width="1.25"/><rect x="524.5" y="103.8" width="11.7" height="11.6" fill="#52a844" stroke="#111" stroke-width="1.1"/><path d="M526.1,109.5H534.7M530.4,105.1V114.0" stroke="#111" stroke-width="1.25"/><rect x="524.5" y="115.3" width="11.7" height="11.6" fill="#a8d870" stroke="#111" stroke-width="1.1"/><path d="M527.5,121.1H533.3M530.4,118.2V124.0" stroke="#111" stroke-width="1.25"/><rect x="433.6" y="144.6" width="11.7" height="11.6" fill="#a8d870" stroke="#111" stroke-width="1.1"/><path d="M436.5,150.4H442.3M439.4,147.5V153.3" stroke="#111" stroke-width="1.25"/><rect x="433.6" y="156.2" width="11.7" height="11.6" fill="#a7a9ab" stroke="#111" stroke-width="1.1"/><rect x="478.6" y="146.8" width="11.7" height="11.6" fill="#a8d870" stroke="#111" stroke-width="1.1"/><path d="M481.5,152.6H487.3M484.4,149.7V155.5" stroke="#111" stroke-width="1.25"/><rect x="478.6" y="158.3" width="11.7" height="11.6" fill="#a8d870" stroke="#111" stroke-width="1.1"/><path d="M481.5,164.2H487.3M484.4,161.2V167.1" stroke="#111" stroke-width="1.25"/><rect x="519.0" y="161.6" width="11.7" height="11.6" fill="#a7a9ab" stroke="#111" stroke-width="1.1"/><path d="M524.9,163.2V171.6" stroke="#111" stroke-width="1.25"/><rect x="519.0" y="173.2" width="11.7" height="11.6" fill="#a8d870" stroke="#111" stroke-width="1.1"/><path d="M522.0,179.0H527.8M524.9,176.1V181.9" stroke="#111" stroke-width="1.25"/><rect x="472.6" y="196.4" width="11.7" height="11.6" fill="#a7a9ab" stroke="#111" stroke-width="1.1"/><path d="M478.4,198.0V206.4" stroke="#111" stroke-width="1.25"/><rect x="472.6" y="208.0" width="11.7" height="11.6" fill="#a8d870" stroke="#111" stroke-width="1.1"/><path d="M475.5,213.8H481.3M478.4,210.9V216.7" stroke="#111" stroke-width="1.25"/><rect x="532.0" y="219.4" width="11.7" height="11.6" fill="#ffffff" stroke="#111" stroke-width="1.1"/><circle cx="537.9" cy="225.2" r="3.0" fill="none" stroke="#111" stroke-width="1.3"/><rect x="532.0" y="231.0" width="11.7" height="11.6" fill="#ffffff" stroke="#111" stroke-width="1.1"/><circle cx="537.9" cy="236.8" r="3.0" fill="none" stroke="#111" stroke-width="1.3"/><rect x="573.0" y="263.6" width="11.7" height="11.6" fill="#a7a9ab" stroke="#111" stroke-width="1.1"/><path d="M578.9,265.2V273.6" stroke="#111" stroke-width="1.25"/><rect x="573.0" y="275.2" width="11.7" height="11.6" fill="#f9d56c" stroke="#111" stroke-width="1.1"/><path d="M576.0,281.0H581.8" stroke="#111" stroke-width="1.25"/><rect x="574.3" y="297.1" width="11.7" height="11.6" fill="#a8d870" stroke="#111" stroke-width="1.1"/><path d="M577.3,302.9H583.1M580.2,300.0V305.8" stroke="#111" stroke-width="1.25"/><rect x="574.3" y="308.7" width="11.7" height="11.6" fill="#f9d56c" stroke="#111" stroke-width="1.1"/><path d="M577.3,314.5H583.1" stroke="#111" stroke-width="1.25"/><rect x="403.9" y="382.4" width="11.7" height="11.6" fill="#a8d870" stroke="#111" stroke-width="1.1"/><path d="M406.8,388.2H412.6M409.7,385.4V391.1" stroke="#111" stroke-width="1.25"/><rect x="403.9" y="394.1" width="11.7" height="11.6" fill="#52a844" stroke="#111" stroke-width="1.1"/><path d="M405.4,399.9H414.0M409.7,395.5V404.2" stroke="#111" stroke-width="1.25"/>
<line x1="25" y1="117.9" x2="29.3" y2="117.9" stroke="#222" stroke-width="1"/>
<text x="16.6" y="121.3" font-size="9.6" font-weight="normal" text-anchor="end" fill="#1c1c1c" textLength="9.6" lengthAdjust="spacingAndGlyphs">60</text>
<text x="17.0" y="120.5" font-size="8.5" fill="#666">°</text>
<line x1="25" y1="177.6" x2="29.3" y2="177.6" stroke="#222" stroke-width="1"/>
<text x="16.6" y="181.0" font-size="9.6" font-weight="normal" text-anchor="end" fill="#1c1c1c" textLength="9.6" lengthAdjust="spacingAndGlyphs">30</text>
<text x="17.0" y="180.2" font-size="8.5" fill="#666">°</text>
<line x1="25" y1="237.3" x2="29.3" y2="237.3" stroke="#222" stroke-width="1"/>
<text x="16.6" y="240.7" font-size="9.6" font-weight="normal" text-anchor="end" fill="#1c1c1c" textLength="4.8" lengthAdjust="spacingAndGlyphs">0</text>
<text x="17.0" y="239.9" font-size="8.5" fill="#666">°</text>
<line x1="25" y1="297.0" x2="29.3" y2="297.0" stroke="#222" stroke-width="1"/>
<text x="16.6" y="300.4" font-size="9.6" font-weight="normal" text-anchor="end" fill="#1c1c1c" textLength="9.6" lengthAdjust="spacingAndGlyphs">30</text>
<text x="17.0" y="299.6" font-size="8.5" fill="#666">°</text>
<line x1="25" y1="356.7" x2="29.3" y2="356.7" stroke="#222" stroke-width="1"/>
<text x="16.6" y="360.1" font-size="9.6" font-weight="normal" text-anchor="end" fill="#1c1c1c" textLength="9.6" lengthAdjust="spacingAndGlyphs">60</text>
<text x="17.0" y="359.3" font-size="8.5" fill="#666">°</text>
<line x1="29.3" y1="411.0" x2="29.3" y2="414.8" stroke="#222" stroke-width="1"/>
<text x="20.5" y="427.0" font-size="9.9" font-weight="normal" text-anchor="start" fill="#1c1c1c" textLength="14.399999999999999" lengthAdjust="spacingAndGlyphs">180</text>
<text x="35.1" y="426.0" font-size="8.5" fill="#666">°</text>
<line x1="131.4" y1="411.0" x2="131.4" y2="414.8" stroke="#222" stroke-width="1"/>
<text x="122.6" y="427.0" font-size="9.9" font-weight="normal" text-anchor="start" fill="#1c1c1c" textLength="14.399999999999999" lengthAdjust="spacingAndGlyphs">120</text>
<text x="137.2" y="426.0" font-size="8.5" fill="#666">°</text>
<line x1="233.5" y1="411.0" x2="233.5" y2="414.8" stroke="#222" stroke-width="1"/>
<text x="227.1" y="427.0" font-size="9.9" font-weight="normal" text-anchor="start" fill="#1c1c1c" textLength="9.6" lengthAdjust="spacingAndGlyphs">60</text>
<text x="236.9" y="426.0" font-size="8.5" fill="#666">°</text>
<line x1="335.6" y1="411.0" x2="335.6" y2="414.8" stroke="#222" stroke-width="1"/>
<text x="331.6" y="427.0" font-size="9.9" font-weight="normal" text-anchor="start" fill="#1c1c1c" textLength="4.8" lengthAdjust="spacingAndGlyphs">0</text>
<text x="336.6" y="426.0" font-size="8.5" fill="#666">°</text>
<line x1="437.7" y1="411.0" x2="437.7" y2="414.8" stroke="#222" stroke-width="1"/>
<text x="431.3" y="427.0" font-size="9.9" font-weight="normal" text-anchor="start" fill="#1c1c1c" textLength="9.6" lengthAdjust="spacingAndGlyphs">60</text>
<text x="441.1" y="426.0" font-size="8.5" fill="#666">°</text>
<line x1="539.8" y1="411.0" x2="539.8" y2="414.8" stroke="#222" stroke-width="1"/>
<text x="531.0" y="427.0" font-size="9.9" font-weight="normal" text-anchor="start" fill="#1c1c1c" textLength="14.399999999999999" lengthAdjust="spacingAndGlyphs">120</text>
<text x="545.6" y="426.0" font-size="8.5" fill="#666">°</text>
<line x1="641.9" y1="411.0" x2="641.9" y2="414.8" stroke="#222" stroke-width="1"/>
<text x="633.1" y="427.0" font-size="9.9" font-weight="normal" text-anchor="start" fill="#1c1c1c" textLength="14.399999999999999" lengthAdjust="spacingAndGlyphs">180</text>
<text x="647.7" y="426.0" font-size="8.5" fill="#666">°</text>
<clipPath id="clipB"><rect x="29.3" y="464.6" width="612.7" height="348.6"/></clipPath>
<rect x="29.3" y="464.6" width="612.7" height="348.6" fill="#fdfce6"/>
<g clip-path="url(#clipB)">
<path d="M29.0,563.5C32.1,555.8 42.3,559.9 47.5,558.9C52.6,557.8 55.2,556.3 59.8,557.3C64.4,558.4 71.6,561.4 75.2,565.0C78.8,568.6 80.8,574.5 81.3,578.9C81.8,583.2 81.8,588.1 78.2,591.2C74.7,594.3 64.9,595.3 59.8,597.3C54.6,599.4 52.6,602.2 47.5,603.5C42.3,604.8 32.1,611.7 29.0,605.0C25.9,598.4 25.9,571.2 29.0,563.5ZM112.1,560.4C114.4,557.6 121.3,554.5 124.4,555.8C127.5,557.1 128.5,562.2 130.6,568.1C132.6,574.0 138.3,586.3 136.7,591.2C135.2,596.1 124.9,597.9 121.3,597.3C117.7,596.8 117.0,592.2 115.2,588.1C113.4,584.0 111.1,577.3 110.6,572.7C110.1,568.1 109.8,563.2 112.1,560.4ZM130.6,578.9C135.7,576.3 157.8,577.3 167.5,578.9C177.3,580.4 183.4,585.0 189.0,588.1C194.7,591.2 200.3,592.7 201.4,597.3C202.4,602.0 200.8,612.2 195.2,615.8C189.6,619.4 175.7,619.9 167.5,618.9C159.3,617.9 151.1,613.8 146.0,609.7C140.8,605.6 139.3,599.4 136.7,594.3C134.2,589.1 125.4,581.4 130.6,578.9ZM192.1,582.0C197.6,574.8 227.0,569.6 234.0,575.8C241.0,582.0 239.4,611.7 234.0,618.9C228.5,626.1 208.3,625.0 201.4,618.9C194.4,612.7 186.7,589.1 192.1,582.0ZM234.0,566.6C239.1,558.4 254.5,562.5 264.8,560.4C275.0,558.4 286.3,556.1 295.6,554.3C304.8,552.5 313.5,551.2 320.2,549.6C326.8,548.1 326.8,546.1 335.6,545.0C344.3,544.0 361.2,543.4 372.5,543.5C383.8,543.6 392.2,544.6 403.3,545.6C414.4,546.7 433.0,544.4 439.0,549.6C444.9,554.9 446.5,572.4 439.0,577.3C431.5,582.3 407.7,578.7 394.0,579.5C380.4,580.3 371.5,581.3 357.1,582.0C342.8,582.6 318.1,581.4 307.9,583.5C297.6,585.5 299.7,591.4 295.6,594.3C291.5,597.1 290.4,598.9 283.2,600.4C276.1,602.0 260.7,602.0 252.5,603.5C244.3,605.0 237.1,615.8 234.0,609.7C230.9,603.5 228.9,574.8 234.0,566.6ZM234.0,609.7C237.1,604.8 247.3,607.1 252.5,609.7C257.6,612.2 256.1,622.5 264.8,625.0C273.5,627.6 296.6,622.7 304.8,625.0C313.0,627.4 325.8,636.6 314.0,638.9C302.2,641.2 247.3,643.8 234.0,638.9C220.7,634.0 230.9,614.5 234.0,609.7ZM267.9,525.0C271.4,523.5 285.8,523.5 289.4,525.0C293.0,526.6 293.0,532.7 289.4,534.3C285.8,535.8 271.4,535.8 267.9,534.3C264.3,532.7 264.3,526.6 267.9,525.0ZM439.0,559.9C442.1,557.9 454.3,557.9 457.4,559.9C460.4,562.0 460.4,570.2 457.4,572.2C454.3,574.2 442.1,574.2 439.0,572.2C435.9,570.2 435.9,562.0 439.0,559.9ZM552.3,584.4C556.4,581.4 568.1,577.0 576.8,575.3C585.5,573.5 596.7,573.2 604.4,573.7C612.0,574.2 616.3,578.1 622.8,578.3C629.2,578.6 639.6,572.7 643.0,575.3C646.4,577.8 648.9,590.1 643.0,593.6C637.1,597.2 618.5,596.7 607.5,596.7C596.4,596.7 586.0,594.1 576.8,593.6C567.6,593.1 556.4,595.2 552.3,593.6C548.2,592.1 548.2,587.5 552.3,584.4ZM509.4,599.8C514.0,593.2 531.9,593.2 537.0,599.8C542.1,606.3 544.7,632.4 540.1,639.0C535.5,645.5 514.5,645.5 509.4,639.0C504.3,632.4 504.8,606.3 509.4,599.8ZM29.0,657.5C55.7,648.2 161.9,657.5 189.0,660.5C216.2,663.6 188.0,671.8 192.1,675.9C196.2,680.0 210.1,678.5 213.7,685.2C217.3,691.8 215.7,708.3 213.7,715.9C211.6,723.6 209.1,728.8 201.4,731.3C193.7,733.9 176.7,733.4 167.5,731.3C158.3,729.3 153.7,723.1 146.0,719.0C138.3,714.9 130.6,707.7 121.3,706.7C112.1,705.7 100.8,711.3 90.6,712.9C80.3,714.4 70.0,715.4 59.8,715.9C49.5,716.5 34.1,725.7 29.0,715.9C23.9,706.2 2.3,666.7 29.0,657.5ZM234.0,639.0C268.2,629.8 404.8,626.7 439.0,639.0C473.2,651.3 443.4,700.6 439.0,712.9C434.6,725.2 421.0,712.1 412.5,712.9C404.0,713.6 394.6,715.7 387.9,717.5C381.2,719.3 377.6,723.1 372.5,723.6C367.4,724.2 364.8,722.4 357.1,720.6C349.4,718.8 336.6,715.4 326.3,712.9C316.1,710.3 305.8,707.2 295.6,705.2C285.3,703.1 275.0,702.4 264.8,700.6C254.5,698.8 239.1,704.7 234.0,694.4C228.9,684.1 199.8,648.2 234.0,639.0ZM439.0,642.1C451.8,629.3 500.3,638.5 515.6,639.0C530.9,639.5 528.3,642.1 530.9,645.1C533.4,648.2 526.8,654.8 530.9,657.4C535.0,659.9 546.2,658.9 555.4,660.4C564.6,662.0 576.8,662.5 586.0,666.6C595.2,670.6 601.0,680.9 610.5,684.9C620.0,689.0 637.6,688.5 643.0,691.1C648.4,693.6 647.4,697.7 643.0,700.3C638.6,702.8 624.1,704.3 616.6,706.4C609.2,708.4 603.9,710.0 598.3,712.5C592.6,715.1 589.1,719.7 583.0,721.7C576.8,723.7 570.2,723.7 561.5,724.8C552.8,725.8 541.1,727.6 530.9,727.8C520.7,728.1 510.5,727.3 500.3,726.3C490.0,725.3 479.8,723.5 469.6,721.7C459.4,719.9 444.1,728.8 439.0,715.6C433.9,702.3 426.2,654.8 439.0,642.1Z" fill="#fdefbb"/><path d="M72.1,682.1C80.3,679.0 113.1,679.0 121.3,682.1C129.5,685.2 129.5,697.5 121.3,700.6C113.1,703.6 80.3,703.6 72.1,700.6C63.9,697.5 63.9,685.2 72.1,682.1ZM530.9,669.6C539.6,665.5 574.3,665.5 583.0,669.6C591.6,673.7 591.6,690.0 583.0,694.1C574.3,698.2 539.6,698.2 530.9,694.1C522.2,690.0 522.2,673.7 530.9,669.6ZM448.2,657.4C455.8,654.8 486.5,654.8 494.1,657.4C501.8,659.9 501.8,670.1 494.1,672.7C486.5,675.2 455.8,675.2 448.2,672.7C440.5,670.1 440.5,659.9 448.2,657.4Z" fill="#fdfce6"/><path d="M310.9,545.6C319.7,539.4 348.1,543.8 363.3,543.8C378.4,543.8 395.3,539.9 401.7,545.6C408.2,551.4 408.2,572.5 401.7,578.3C395.3,584.1 378.4,579.9 363.3,580.4C348.1,580.9 319.7,587.1 310.9,581.3C302.2,575.5 302.2,551.9 310.9,545.6Z" fill="#fce8a6"/><path d="M213.7,602.0C216.2,600.7 226.5,600.7 229.1,602.0C231.6,603.2 231.6,608.4 229.1,609.7C226.5,610.9 216.2,610.9 213.7,609.7C211.1,608.4 211.1,603.2 213.7,602.0ZM65.9,616.7C69.5,616.4 83.9,616.4 87.5,616.7C91.1,617.1 91.1,618.5 87.5,618.9C83.9,619.3 69.5,619.3 65.9,618.9C62.3,618.5 62.3,617.1 65.9,616.7ZM35.2,662.1C39.3,660.3 50.5,659.0 59.8,659.0C69.0,659.0 80.3,660.5 90.6,662.1C100.8,663.6 113.6,666.4 121.3,668.2C129.0,670.0 130.6,669.0 136.7,672.9C142.9,676.7 154.2,686.7 158.3,691.3C162.4,695.9 163.4,698.8 161.3,700.6C159.3,702.4 152.6,704.1 146.0,702.1C139.3,700.0 130.6,692.6 121.3,688.2C112.1,683.9 100.8,678.5 90.6,675.9C80.3,673.4 69.0,673.9 59.8,672.9C50.5,671.8 39.3,671.6 35.2,669.8C31.1,668.0 31.1,663.9 35.2,662.1ZM234.0,618.9C236.6,615.8 245.8,617.9 249.4,620.4C253.0,623.0 256.1,631.2 255.5,634.3C255.0,637.4 249.9,638.1 246.3,638.9C242.7,639.7 236.1,642.2 234.0,638.9C231.9,635.6 231.4,622.0 234.0,618.9ZM267.9,663.6C269.4,662.1 276.1,663.6 280.2,666.7C284.3,669.8 290.7,678.8 292.5,682.1C294.3,685.4 293.0,686.2 290.9,686.7C288.9,687.2 283.5,687.0 280.2,685.2C276.8,683.4 273.0,679.5 270.9,675.9C268.9,672.3 266.3,665.2 267.9,663.6ZM411.0,666.7C413.0,664.1 421.2,664.1 423.3,666.7C425.3,669.3 425.3,679.5 423.3,682.1C421.2,684.7 413.0,684.7 411.0,682.1C408.9,679.5 408.9,669.3 411.0,666.7ZM501.8,651.3C504.3,649.5 514.5,649.5 517.1,651.3C519.7,653.0 519.7,660.2 517.1,662.0C514.5,663.8 504.3,663.8 501.8,662.0C499.2,660.2 499.2,653.0 501.8,651.3ZM637.5,660.0C638.3,658.3 642.1,657.8 643.0,659.4C643.9,661.0 643.8,668.1 643.0,669.8C642.2,671.5 639.0,671.1 638.1,669.5C637.2,667.9 636.7,661.7 637.5,660.0Z" fill="#fad878"/><path d="M72.1,660.5C75.4,659.0 90.0,660.3 93.6,662.1C97.2,663.9 97.0,669.8 93.6,671.3C90.3,672.9 77.2,673.1 73.6,671.3C70.0,669.5 68.8,662.1 72.1,660.5ZM238.6,623.5C240.2,621.7 247.3,621.7 249.4,623.5C251.4,625.3 252.5,632.5 250.9,634.3C249.4,636.1 242.2,636.1 240.2,634.3C238.1,632.5 237.1,625.3 238.6,623.5Z" fill="#f0c068"/><path d="M29.0,495.8C41.8,488.1 84.4,494.2 105.9,494.2C127.5,494.2 149.5,491.7 158.3,495.8C167.0,499.9 164.4,514.9 158.3,518.9C152.1,522.9 129.5,519.6 121.3,519.8C113.1,519.9 114.2,518.7 109.0,519.8C103.9,520.9 98.8,524.1 90.6,526.6C82.3,529.0 70.0,531.9 59.8,534.3C49.5,536.6 34.1,546.8 29.0,540.4C23.9,534.0 16.2,503.5 29.0,495.8ZM29.0,511.2C32.1,505.8 44.4,505.8 47.5,511.2C50.5,516.6 50.5,538.1 47.5,543.5C44.4,548.9 32.1,548.9 29.0,543.5C25.9,538.1 25.9,516.6 29.0,511.2ZM213.7,483.5C217.1,479.9 230.6,479.9 234.0,483.5C237.4,487.1 237.4,501.4 234.0,505.0C230.6,508.6 217.1,508.6 213.7,505.0C210.3,501.4 210.3,487.1 213.7,483.5ZM234.0,505.0C239.1,502.4 259.6,502.4 264.8,505.0C269.9,507.6 269.9,517.8 264.8,520.4C259.6,523.0 239.1,523.0 234.0,520.4C228.9,517.8 228.9,507.6 234.0,505.0ZM280.2,492.7C285.3,490.6 305.8,490.6 310.9,492.7C316.1,494.8 316.1,503.0 310.9,505.0C305.8,507.1 285.3,507.1 280.2,505.0C275.0,503.0 275.0,494.8 280.2,492.7ZM310.9,517.3C318.6,514.8 341.2,515.8 357.1,515.8C373.0,515.8 398.2,514.5 406.4,517.3C414.6,520.1 414.6,530.4 406.4,532.7C398.2,535.0 373.0,531.4 357.1,531.2C341.2,530.9 318.6,533.5 310.9,531.2C303.3,528.9 303.3,519.9 310.9,517.3ZM406.4,498.9C411.8,494.0 433.5,492.7 439.0,497.3C444.4,501.9 444.4,521.7 439.0,526.6C433.5,531.4 411.8,531.2 406.4,526.6C400.9,521.9 400.9,503.7 406.4,498.9ZM329.4,606.6C336.6,604.5 365.3,604.5 372.5,606.6C379.7,608.6 379.7,616.8 372.5,618.9C365.3,620.9 336.6,620.9 329.4,618.9C322.2,616.8 322.2,608.6 329.4,606.6ZM406.4,612.7C410.5,610.7 426.9,610.7 431.0,612.7C435.1,614.8 435.1,623.0 431.0,625.0C426.9,627.1 410.5,627.1 406.4,625.0C402.3,623.0 402.3,614.8 406.4,612.7ZM439.0,500.2C450.7,497.4 497.7,498.4 509.4,501.8C521.2,505.1 516.1,516.8 509.4,520.1C502.8,523.4 481.4,521.9 469.6,521.7C457.9,521.4 444.1,522.2 439.0,518.6C433.9,515.0 427.3,503.0 439.0,500.2ZM555.4,501.8C570.0,499.5 628.4,497.2 643.0,500.2C657.6,503.3 651.5,517.1 643.0,520.1C634.5,523.2 606.7,519.6 592.1,518.6C577.5,517.6 561.5,516.8 555.4,514.0C549.3,511.2 540.8,504.1 555.4,501.8ZM616.6,529.3C620.5,525.2 638.6,522.7 643.0,526.3C647.4,529.8 646.9,546.7 643.0,550.8C639.1,554.8 624.1,554.3 619.7,550.8C615.3,547.2 612.8,533.4 616.6,529.3ZM457.4,578.3C464.5,573.2 493.1,573.2 500.3,578.3C507.4,583.4 507.4,603.8 500.3,609.0C493.1,614.1 464.5,614.1 457.4,609.0C450.2,603.8 450.2,583.4 457.4,578.3ZM553.2,604.4C560.7,598.3 583.3,603.3 598.3,602.8C613.2,602.3 635.5,595.3 643.0,601.3C650.4,607.3 657.9,632.7 643.0,639.0C628.0,645.2 568.2,644.7 553.2,639.0C538.3,633.2 545.7,610.4 553.2,604.4ZM29.0,621.0C39.3,615.1 70.0,621.3 90.6,621.0C111.1,620.8 136.7,620.0 152.1,619.5C167.5,619.0 172.6,617.8 182.9,617.9C193.2,618.1 208.0,616.3 213.7,620.4C219.3,624.5 216.8,637.5 216.8,642.6C216.8,647.6 221.9,649.0 213.7,650.6C205.5,652.1 182.9,651.2 167.5,651.8C152.1,652.4 134.2,653.6 121.3,654.3C108.5,654.9 105.9,655.1 90.6,655.5C75.2,655.8 39.3,662.2 29.0,656.4C18.7,650.7 18.7,626.9 29.0,621.0ZM540.1,614.7C549.3,611.1 581.1,615.2 598.3,614.7C615.4,614.2 635.5,602.4 643.0,611.6C650.4,620.8 649.9,660.4 643.0,669.8C636.0,679.3 613.9,669.3 601.3,668.3C588.8,667.3 577.3,669.1 567.6,663.7C557.9,658.3 547.7,644.3 543.1,636.1C538.5,628.0 530.9,618.3 540.1,614.7ZM439.0,581.0C449.2,573.3 490.0,572.3 500.3,581.0C510.5,589.7 505.4,624.4 500.3,633.1C495.2,641.7 479.8,634.1 469.6,633.1C459.4,632.0 444.1,635.6 439.0,626.9C433.9,618.3 428.8,588.7 439.0,581.0ZM237.1,682.1C239.6,679.5 249.9,679.5 252.5,682.1C255.0,684.7 255.0,694.9 252.5,697.5C249.9,700.0 239.6,700.0 237.1,697.5C234.5,694.9 234.5,684.7 237.1,682.1ZM255.5,705.2C258.1,704.1 268.4,704.1 270.9,705.2C273.5,706.2 273.5,710.3 270.9,711.3C268.4,712.4 258.1,712.4 255.5,711.3C253.0,710.3 253.0,706.2 255.5,705.2ZM442.1,732.4C447.2,730.6 467.6,730.6 472.7,732.4C477.8,734.2 477.8,741.3 472.7,743.1C467.6,744.9 447.2,744.9 442.1,743.1C437.0,741.3 437.0,734.2 442.1,732.4ZM469.6,760.0C473.7,759.0 490.0,759.0 494.1,760.0C498.2,761.0 498.2,765.1 494.1,766.1C490.0,767.1 473.7,767.1 469.6,766.1C465.5,765.1 465.5,761.0 469.6,760.0ZM604.4,730.9C606.4,725.3 617.7,724.8 622.8,724.8C627.9,724.8 633.0,725.3 635.0,730.9C637.1,736.5 639.1,753.9 635.0,758.4C630.9,763.0 615.6,763.0 610.5,758.4C605.4,753.9 602.3,736.5 604.4,730.9Z" fill="#ebf2cf"/><path d="M29.0,626.6C39.3,621.9 68.5,626.3 90.6,627.2C112.6,628.0 149.5,629.5 161.3,631.8C173.1,634.1 173.1,637.7 161.3,641.0C149.5,644.4 112.6,649.5 90.6,651.8C68.5,654.1 39.3,659.1 29.0,654.9C18.7,650.7 18.7,631.2 29.0,626.6ZM563.0,616.5C566.1,611.4 584.9,617.3 598.3,617.8C611.6,618.2 635.5,613.1 643.0,619.3C650.4,625.5 648.4,649.2 643.0,655.1C637.6,661.0 621.0,655.6 610.5,654.5C600.0,653.4 587.8,654.7 579.9,648.4C572.0,642.1 560.0,621.6 563.0,616.5Z" fill="#d7e9a6"/><path d="M29.0,628.7C35.7,624.8 60.0,627.7 69.0,628.7C78.0,629.7 80.6,632.3 82.9,634.9C85.2,637.4 85.2,641.4 82.9,644.1C80.6,646.8 78.0,649.8 69.0,651.2C60.0,652.5 35.7,655.8 29.0,652.1C22.3,648.4 22.3,632.6 29.0,628.7ZM595.8,630.9C601.2,627.2 635.1,626.4 643.0,630.0C650.8,633.6 648.4,649.0 643.0,652.7C637.6,656.3 618.4,655.7 610.5,652.1C602.7,648.4 590.4,634.6 595.8,630.9Z" fill="#b9dc88"/><path d="M29.0,629.6C34.6,626.2 56.4,628.8 62.9,629.6C69.3,630.5 66.7,632.2 67.5,634.9C68.2,637.5 68.2,643.1 67.5,645.6C66.7,648.1 69.3,649.2 62.9,649.9C56.4,650.7 34.6,653.3 29.0,649.9C23.4,646.6 23.4,633.0 29.0,629.6ZM602.9,634.6C608.3,631.9 636.3,631.1 643.0,633.7C649.7,636.3 648.4,647.6 643.0,650.2C637.6,652.9 617.2,652.2 610.5,649.6C603.8,647.0 597.4,637.3 602.9,634.6Z" fill="#93c866"/><path d="M29.0,631.8C32.1,629.3 43.6,630.8 47.5,631.8C51.4,632.8 51.9,635.6 52.4,637.9C52.9,640.2 54.4,644.1 50.5,645.6C46.6,647.1 32.6,649.2 29.0,646.9C25.4,644.6 25.9,634.3 29.0,631.8ZM620.6,635.8C624.0,633.8 639.3,632.9 643.0,634.9C646.7,636.9 646.4,645.7 643.0,647.8C639.6,649.8 626.5,649.1 622.8,647.2C619.0,645.2 617.3,637.9 620.6,635.8Z" fill="#5aa84a"/>
<line x1="29.3" y1="519.9" x2="641.9" y2="519.9" stroke="#8a8a80" stroke-width="0.9" stroke-dasharray="2,3.5,0.8,3.5"/>
<line x1="29.3" y1="579.6" x2="641.9" y2="579.6" stroke="#8a8a80" stroke-width="0.9" stroke-dasharray="2,3.5,0.8,3.5"/>
<line x1="29.3" y1="639.3" x2="641.9" y2="639.3" stroke="#8a8a80" stroke-width="0.9" stroke-dasharray="2,3.5,0.8,3.5"/>
<line x1="29.3" y1="699.0" x2="641.9" y2="699.0" stroke="#8a8a80" stroke-width="0.9" stroke-dasharray="2,3.5,0.8,3.5"/>
<line x1="29.3" y1="758.7" x2="641.9" y2="758.7" stroke="#8a8a80" stroke-width="0.9" stroke-dasharray="2,3.5,0.8,3.5"/>
<line x1="131.4" y1="464.6" x2="131.4" y2="813.2" stroke="#8a8a80" stroke-width="0.9" stroke-dasharray="2,3.5,0.8,3.5"/>
<line x1="233.5" y1="464.6" x2="233.5" y2="813.2" stroke="#8a8a80" stroke-width="0.9" stroke-dasharray="2,3.5,0.8,3.5"/>
<line x1="335.6" y1="464.6" x2="335.6" y2="813.2" stroke="#8a8a80" stroke-width="0.9" stroke-dasharray="2,3.5,0.8,3.5"/>
<line x1="437.7" y1="464.6" x2="437.7" y2="813.2" stroke="#8a8a80" stroke-width="0.9" stroke-dasharray="2,3.5,0.8,3.5"/>
<line x1="539.8" y1="464.6" x2="539.8" y2="813.2" stroke="#8a8a80" stroke-width="0.9" stroke-dasharray="2,3.5,0.8,3.5"/>
<path d="M49.8,508.8L53.2,507.6L56.6,507.0L60.0,507.8L60.8,506.8L57.4,505.8L53.2,503.4L56.6,502.2L61.7,499.4L69.2,497.4L73.6,498.2L77.0,498.4L82.1,499.0L88.9,499.8L95.7,500.6L100.8,501.6L105.9,501.0L109.3,501.0L114.4,499.8L117.8,500.0L122.9,501.2L128.0,500.4L134.8,502.0L139.9,502.2L145.0,504.4L151.8,504.0L155.3,502.4L162.1,504.4L168.9,504.4L172.3,503.0L174.0,497.0L176.5,499.0L177.4,501.0L182.5,503.0L185.9,504.0L188.4,505.4L189.3,501.0L191.8,500.0L196.1,500.6L196.9,503.0L193.5,507.0L189.3,508.0L186.7,510.9L181.6,512.9L176.5,516.9L174.8,520.9L177.4,522.9L178.2,525.7L182.5,525.9L185.9,527.3L191.0,529.3L195.6,529.7L195.7,533.8L197.8,535.4L200.3,536.8L201.4,534.8L201.2,530.8L204.3,528.5L204.9,524.9L202.9,522.3L203.7,519.9L202.9,515.3L208.0,515.3L213.1,516.9L216.5,517.9L217.4,520.9L219.9,522.9L222.5,522.3L225.0,519.3L226.4,520.9L230.1,524.9L231.0,527.9L235.2,529.5L238.1,531.2L240.3,534.8L240.8,536.6L237.8,537.0L233.5,539.4L226.7,539.2L222.5,539.6L219.1,541.6L215.7,545.0L217.4,544.0L225.0,541.4L226.2,542.2L225.3,544.2L224.2,545.8L225.9,547.4L228.4,548.4L231.3,548.6L233.5,548.0L231.5,549.2L227.4,550.7L223.8,552.7L223.3,550.5L225.9,549.2L223.3,549.4L221.6,550.1L219.1,551.3L216.2,552.5L215.3,554.3L216.5,556.1L215.7,556.7L213.1,557.3L209.7,558.5L209.5,560.3L208.0,561.9L207.1,563.1L206.3,565.7L207.0,568.5L205.4,570.2L203.1,571.8L200.8,573.4L198.1,575.4L197.1,578.2L197.4,580.6L198.6,583.2L199.5,586.6L198.8,589.2L197.6,589.2L196.4,587.2L195.1,584.6L194.7,582.0L193.2,579.8L190.5,580.2L188.4,578.8L185.9,578.4L183.3,579.2L183.5,581.4L182.1,581.4L179.9,580.6L176.5,580.0L174.3,581.0L171.2,583.2L170.1,585.0L169.9,588.0L169.4,591.5L169.4,594.9L170.1,597.5L171.4,600.5L173.1,602.1L174.8,603.1L178.2,602.3L180.8,601.9L181.6,599.7L182.0,597.5L185.0,596.5L187.6,596.5L186.7,599.1L186.2,602.5L185.5,604.5L185.4,607.3L186.7,607.9L190.1,607.7L192.7,608.3L194.0,609.4L193.5,612.4L193.4,616.4L193.5,617.6L195.6,620.4L197.8,621.8L200.3,620.2L202.4,620.8L204.1,622.4L203.1,625.0L202.0,622.6L200.3,621.6L199.0,623.0L199.5,624.6L196.9,624.0L195.2,623.0L193.5,622.4L191.0,619.8L189.8,617.8L189.3,616.2L187.6,613.8L186.6,612.8L184.2,612.6L181.6,611.6L179.9,611.2L178.2,610.0L176.5,607.9L174.5,607.1L172.3,608.1L169.7,607.5L168.0,606.9L165.5,605.5L162.7,604.1L160.4,602.9L157.8,601.3L156.1,599.1L156.4,596.5L155.6,594.5L154.1,592.5L152.2,590.5L151.0,589.0L149.5,587.2L148.8,585.6L147.4,583.8L146.2,582.4L144.7,580.8L143.7,579.0L142.8,577.4L141.3,576.6L140.3,576.0L140.6,578.6L142.3,581.2L143.7,583.6L145.4,586.6L146.7,589.2L147.9,591.5L149.3,593.3L148.3,593.7L146.7,591.3L144.9,589.9L144.5,587.6L142.3,586.0L140.8,584.0L141.3,582.6L139.4,580.4L138.1,577.8L136.9,575.8L136.2,574.2L135.5,572.8L134.2,571.6L132.3,570.8L130.4,570.4L130.1,568.7L128.2,566.7L127.2,564.5L126.3,563.1L125.0,560.7L123.9,558.9L124.5,556.7L123.8,554.1L124.6,550.7L124.8,547.4L124.3,544.8L123.4,543.0L126.0,543.6L127.0,545.2L127.3,543.4L126.7,541.8L125.1,540.4L122.9,539.2L120.4,538.2L118.7,536.8L117.5,534.8L115.3,532.8L113.9,530.8L112.9,528.9L111.4,527.1L109.0,525.3L106.8,522.9L104.2,523.1L101.7,522.1L98.3,520.5L94.9,519.9L90.9,519.9L87.2,518.9L84.6,518.3L82.6,519.9L80.4,520.9L77.8,521.5L77.3,518.9L79.5,517.5L76.6,519.3L74.4,520.9L73.2,522.7L70.5,524.7L68.5,525.9L65.9,527.3L63.4,528.3L60.8,529.3L58.3,530.2L55.2,531.0L58.3,529.7L60.8,528.1L63.4,526.9L65.8,525.5L67.5,523.7L68.5,522.3L65.9,522.3L63.4,522.7L60.3,522.5L60.0,520.3L57.4,519.9L55.2,518.9L54.5,517.7L53.2,516.7L54.4,515.1L55.7,513.7L58.3,513.7L60.8,512.9L62.0,511.5L61.3,510.9L58.6,511.1L56.1,510.7L52.8,510.7L51.8,509.8L49.8,508.8ZM204.1,622.4L206.3,620.4L207.1,618.4L208.8,617.4L211.4,616.8L213.1,615.6L213.9,614.6L214.8,616.2L216.5,615.2L216.8,616.4L219.2,617.6L222.8,618.2L225.9,619.2L228.9,618.0L230.5,618.2L229.3,619.8L232.2,622.4L235.2,623.4L236.9,625.8L238.6,627.4L242.0,627.6L244.6,628.2L247.1,629.9L248.5,631.1L249.7,635.3L250.5,637.3L250.9,639.7L253.1,641.3L255.6,640.7L259.0,642.3L262.4,644.1L265.8,645.1L269.2,646.7L271.8,648.9L275.2,649.6L276.2,653.6L276.1,657.2L273.8,660.2L271.8,663.2L269.9,665.6L269.2,669.1L268.7,674.5L267.5,678.7L266.0,682.1L264.1,684.9L259.9,685.5L256.5,687.1L253.9,690.0L252.9,694.0L252.4,696.4L250.5,700.0L248.0,703.0L245.8,706.2L243.7,708.6L241.2,708.8L238.6,708.0L236.2,707.4L238.3,709.9L237.8,711.9L238.6,713.9L236.9,715.5L231.0,716.9L229.6,717.9L229.8,720.1L225.9,720.9L225.0,722.9L227.2,724.1L226.0,724.9L224.7,727.9L221.9,729.0L220.6,731.4L223.3,734.4L220.8,736.8L218.5,739.8L218.0,742.2L219.4,743.6L216.5,744.2L214.8,746.4L211.4,744.8L208.8,742.8L207.5,738.8L207.1,734.8L208.5,731.8L208.0,728.8L210.0,725.9L210.4,722.9L210.0,718.9L210.9,714.9L212.1,710.9L213.6,706.0L213.9,701.0L214.3,696.0L215.0,693.0L215.7,688.1L216.2,683.1L216.0,677.1L215.0,675.7L212.2,673.1L208.8,671.1L206.3,668.2L205.4,666.2L203.7,663.2L202.0,659.2L200.3,655.2L198.6,652.2L197.4,650.2L197.4,647.7L199.1,645.9L198.6,644.3L198.0,642.3L199.1,639.3L199.5,637.3L201.2,636.1L202.0,634.3L203.7,631.7L204.1,628.2L203.7,626.0L203.1,625.0ZM211.4,483.5L223.3,479.1L233.5,476.1L259.0,475.1L281.2,473.1L298.2,475.1L305.0,477.1L315.2,477.1L305.0,481.1L303.3,486.1L304.1,490.0L299.0,495.0L298.2,499.0L293.1,500.4L284.6,503.6L279.5,504.0L272.6,508.4L267.5,509.9L265.8,513.9L263.3,517.9L260.7,519.9L257.3,518.3L253.1,516.9L249.7,512.9L248.0,509.9L244.6,507.0L244.6,503.0L248.8,501.0L242.9,499.0L243.7,497.0L241.2,495.0L237.8,491.0L235.2,488.5L226.7,487.7L219.1,487.7L213.1,485.1ZM325.6,568.1L332.2,569.5L335.6,568.1L340.7,566.1L349.2,565.9L353.0,565.1L354.3,565.9L353.5,567.7L354.5,569.3L352.6,571.2L353.5,572.6L355.2,573.4L357.7,573.8L361.5,575.0L362.3,576.6L366.2,578.0L368.9,578.8L369.6,577.2L369.8,575.0L372.2,573.8L374.9,574.4L378.1,576.0L381.5,576.8L384.9,577.8L387.5,576.8L390.6,577.2L390.9,579.6L392.8,584.0L393.8,584.0L395.0,580.6L393.8,584.0L393.3,585.6L395.5,591.5L398.4,595.5L398.9,600.5L401.1,603.5L402.8,608.5L405.7,611.4L407.9,613.8L409.3,615.6L411.3,618.6L414.7,617.8L419.0,616.8L422.7,615.6L422.4,618.6L421.5,621.4L419.8,625.4L417.3,630.3L413.9,635.3L409.6,640.3L406.7,642.9L404.0,645.3L402.3,648.9L401.6,652.2L402.8,655.2L403.3,659.2L404.5,661.2L404.7,668.2L403.3,672.1L398.6,675.1L395.7,679.1L396.0,683.1L396.0,687.1L391.7,690.0L391.4,694.0L390.7,697.0L388.3,699.0L386.6,701.6L383.2,705.0L379.8,706.6L376.4,707.2L373.0,707.2L369.6,708.6L367.1,707.4L366.7,705.0L366.2,703.0L365.0,700.0L363.7,696.2L361.6,693.0L361.0,690.0L360.3,685.1L359.4,682.1L358.2,679.5L356.0,676.1L355.7,673.7L356.4,670.1L356.9,666.2L359.1,661.2L358.1,657.2L356.7,652.2L356.4,650.2L354.7,647.3L352.3,644.3L351.4,641.3L351.8,637.3L352.3,633.3L350.9,631.3L350.1,630.3L347.5,630.5L345.8,630.7L344.1,628.4L343.3,626.8L339.9,626.8L337.3,627.4L333.9,629.3L332.2,629.7L328.8,629.0L326.2,629.3L322.8,630.5L320.3,629.3L317.7,627.0L316.0,625.6L314.3,624.4L313.0,622.4L312.6,620.4L310.9,618.4L310.1,617.4L307.5,614.8L307.0,612.4L306.3,610.4L307.2,608.5L307.9,605.5L308.2,602.5L307.9,600.5L306.8,597.5L307.5,594.5L308.7,591.5L310.4,588.6L312.1,586.6L314.3,584.0L316.9,582.6L319.1,580.6L318.9,577.6L319.8,574.6L322.0,572.4L324.0,571.2L325.4,568.7L325.6,568.1ZM528.7,683.1L529.9,682.7L534.3,680.3L538.1,679.1L541.5,678.1L543.5,675.1L545.7,673.1L547.4,670.1L550.0,667.6L553.0,667.6L555.1,668.8L556.3,669.5L557.1,665.2L558.5,663.6L561.2,663.4L561.2,662.0L562.7,662.8L565.3,663.6L568.4,663.2L567.0,666.2L566.1,669.1L568.7,670.9L572.1,673.7L575.2,674.1L576.3,669.1L576.5,664.6L578.0,660.6L579.8,664.6L581.5,667.8L583.0,669.1L583.2,672.5L584.5,676.7L588.8,679.7L590.3,683.7L592.2,684.5L593.0,687.1L596.1,689.6L596.8,695.0L595.9,701.0L595.1,704.0L592.9,706.8L591.2,710.1L590.6,713.9L587.4,714.5L584.5,717.1L582.1,714.7L579.8,716.5L575.5,715.1L573.5,713.5L573.1,711.1L570.6,710.3L571.2,708.0L570.1,709.3L568.4,709.5L569.5,707.0L570.1,705.0L566.8,708.6L565.6,706.6L563.9,704.4L558.8,702.0L554.9,702.4L550.0,703.6L546.6,705.0L545.7,706.8L539.8,707.0L536.4,708.9L533.0,708.9L531.3,707.6L532.5,705.6L532.5,702.2L531.3,699.0L530.6,696.2L529.6,693.0L528.7,691.0L528.7,688.1L529.2,685.1L528.7,683.1ZM230.3,506.8L228.1,509.4L225.3,513.5L222.5,515.1L219.1,515.3L214.8,513.3L209.7,511.1L203.7,510.9L202.9,509.2L209.7,507.6L211.4,505.0L208.0,503.0L202.9,500.4L196.1,500.4L191.0,500.0L184.2,497.0L183.3,492.8L191.0,492.4L199.5,492.6L204.6,494.4L209.7,496.4L213.9,498.0L218.2,500.0L220.8,501.2L222.5,503.4L226.7,505.2L229.3,506.0ZM208.0,486.1L199.5,487.5L184.2,487.3L182.5,484.1L189.3,481.1L179.1,478.1L191.0,475.5L208.0,474.1L230.1,475.1L228.4,477.5L221.6,479.5L214.8,481.9L208.0,483.7ZM198.6,490.8L185.9,491.0L178.2,489.5L179.1,486.9L185.9,487.1L196.1,487.5L200.3,489.1ZM187.6,480.1L175.7,477.5L170.6,479.1L174.0,483.1L179.9,483.1L185.0,481.5ZM162.9,501.6L155.3,502.0L146.7,503.0L139.9,501.6L134.8,500.0L135.7,497.6L133.1,496.6L136.5,494.6L142.5,494.0L148.4,494.6L154.4,493.4L158.7,497.0L162.1,499.0ZM138.2,493.6L132.3,497.0L127.2,497.6L122.4,496.0L123.6,492.4L129.7,491.0L135.7,491.6ZM157.8,488.1L150.1,489.7L143.3,490.4L136.5,489.1L139.1,487.1L146.7,487.1L151.8,486.7L156.1,487.7ZM170.6,496.0L168.9,498.0L165.5,497.0L162.1,495.0L163.8,493.4L168.9,492.4L170.6,494.0ZM177.4,496.0L174.0,496.0L172.3,494.0L175.7,492.0L180.8,492.4L181.6,494.0ZM198.6,512.7L191.0,513.9L187.6,511.9L189.3,509.0L194.4,508.0L197.8,510.9ZM172.3,503.0L167.2,502.4L168.0,500.4L172.3,500.6ZM177.4,490.4L171.4,490.4L170.6,488.1L175.7,487.5L178.2,488.9ZM168.9,490.0L164.6,490.0L163.8,487.5L168.9,487.5ZM139.9,485.7L131.4,488.1L126.3,487.1L134.8,484.5ZM160.4,483.5L155.3,484.1L155.3,482.1L160.4,481.7ZM201.2,514.9L198.6,515.9L196.1,514.9L198.6,513.9ZM234.5,544.6L240.3,544.8L245.4,546.4L245.9,544.8L244.6,542.8L245.4,540.8L241.2,540.2L240.3,536.6L238.6,537.4L235.7,541.2L234.5,543.4ZM125.6,543.2L122.9,542.2L117.5,538.6L119.5,538.4L122.1,539.4L124.3,541.0ZM111.0,535.4L112.7,534.8L110.2,531.8L109.3,532.8ZM191.2,595.7L193.5,593.7L196.1,593.3L198.6,593.5L202.0,594.7L204.3,596.3L206.8,597.3L209.4,599.1L207.7,599.7L203.4,599.7L204.1,598.3L202.6,596.9L199.8,596.1L196.4,595.1L194.4,595.5L191.8,595.9ZM209.0,602.7L211.7,599.7L215.7,599.9L219.2,602.3L216.5,603.1L214.1,604.3L211.7,603.3ZM202.4,602.7L205.8,603.3L205.1,603.7L202.6,603.1ZM221.3,602.5L224.0,602.7L223.8,603.5L221.3,603.5ZM226.7,540.0L230.6,541.6L227.6,541.0ZM74.4,524.3L76.5,524.9L73.9,526.1ZM52.3,532.0L50.6,532.8L48.9,533.2L52.3,532.8ZM46.4,534.2L45.0,534.6ZM40.4,535.4L39.0,535.6ZM33.6,536.2L32.4,536.4ZM70.4,599.1L71.9,600.1L70.9,601.7ZM68.0,597.1L70.2,597.9ZM66.3,596.3L67.3,596.9ZM63.9,595.1L64.6,595.7ZM48.9,513.9L43.8,512.5L46.4,513.3ZM53.2,519.1L54.4,519.5ZM231.5,741.6L235.2,741.4L237.3,742.0L235.2,743.4L232.7,743.2ZM218.9,744.0L216.5,744.8L213.9,746.8L216.5,748.8L221.6,749.1L224.7,748.4L222.5,747.4L219.4,745.4ZM179.9,639.9L180.4,641.3L181.6,640.7ZM210.5,722.5L209.4,723.3L209.7,725.7L210.5,724.5ZM203.7,589.7L202.6,590.5L202.9,589.2ZM204.1,586.6L203.1,586.2ZM178.9,546.4L183.3,543.8L185.9,542.0L188.4,542.4L191.3,546.0L189.3,546.8L185.9,546.0L181.6,546.6ZM186.2,556.3L186.2,551.7L186.7,548.8L188.4,548.0L191.0,548.2L190.1,550.1L188.6,552.7L188.3,555.7ZM191.8,548.0L193.5,548.0L196.9,548.8L198.6,549.4L196.6,551.7L195.2,553.7L193.5,551.7L192.7,550.5ZM193.7,556.3L197.8,555.1L201.2,553.9L200.3,554.7L196.9,556.7ZM199.8,553.1L205.8,552.7L205.4,551.3L201.2,552.1ZM170.2,539.0L171.4,536.8L168.0,532.4L166.8,533.4L169.7,536.8ZM136.5,517.5L139.9,517.9L145.0,516.9L150.1,514.9L145.9,514.3L140.8,515.3ZM122.9,509.9L126.3,507.6L131.4,506.0L134.8,507.6L129.7,509.6ZM145.0,522.9L150.1,521.5L151.8,520.7L146.7,521.5ZM383.2,557.1L385.1,557.3L389.2,557.3L392.6,555.7L395.1,555.7L399.4,557.5L402.8,557.7L406.2,556.7L406.4,554.5L403.7,552.7L400.6,550.9L398.9,549.2L395.1,549.8L392.6,550.7L390.9,549.0L392.8,547.8L389.2,546.6L387.0,548.2L386.0,549.2L384.3,551.3L383.1,554.3L383.2,557.1ZM419.0,546.6L422.4,545.8L425.8,546.2L426.1,549.2L422.9,550.7L422.0,551.7L425.1,555.7L425.4,557.7L425.8,560.7L427.3,565.1L423.2,566.1L420.7,564.9L419.0,563.3L419.8,559.3L418.1,556.1L416.4,553.7L416.4,550.7L415.2,549.9L416.4,548.6L419.0,546.6ZM434.6,546.8L439.4,546.4L440.2,549.4L437.7,552.3L435.1,552.1L434.6,549.4ZM461.5,546.8L466.6,546.6L470.0,547.0L464.9,548.2ZM390.9,638.7L393.4,638.9L393.4,641.3L391.7,644.3L389.7,642.3ZM385.8,646.3L386.3,652.2L388.0,656.2L387.0,653.2ZM394.3,658.2L395.1,661.2L394.8,667.2L394.1,663.2ZM511.7,536.8L515.1,534.8L521.1,528.9L521.9,529.8L516.8,535.2L512.5,537.2ZM358.6,612.4L360.3,611.8L360.8,614.0L359.4,613.8ZM388.3,517.9L390.9,517.5L390.0,519.9ZM395.1,516.9L396.3,514.9L396.9,517.3ZM325.9,539.8L328.8,539.0L333.0,538.6L338.0,537.4L338.5,534.4L336.1,533.0L335.1,531.8L333.4,530.2L332.9,528.7L331.2,527.5L332.5,524.9L330.5,524.5L328.8,524.7L330.5,522.7L327.1,522.7L325.7,524.9L326.1,527.3L325.1,527.1L327.1,528.5L327.4,530.0L330.0,530.0L330.0,531.4L330.7,533.0L327.8,533.2L328.5,534.2L328.6,535.2L326.6,536.2L330.2,537.0L327.9,537.8ZM325.4,535.4L325.1,532.8L325.9,530.8L324.9,529.5L322.8,529.3L321.1,530.8L318.6,531.4L318.9,533.2L318.1,535.4L319.4,536.6L322.0,536.2L324.7,535.4ZM297.3,511.9L294.8,510.1L297.3,509.0L294.8,508.8L297.7,507.2L304.1,507.6L308.4,507.0L310.9,508.0L312.5,509.8L310.4,511.3L305.0,512.9L299.9,512.3ZM354.3,483.1L362.8,480.1L373.0,479.3L381.5,479.7L373.0,483.1L369.6,485.1L364.5,486.1L359.4,485.1ZM424.1,497.4L428.3,493.6L430.9,491.0L437.7,487.7L452.1,486.3L446.2,489.1L436.0,492.0L432.6,495.6L430.0,498.4L426.6,498.4ZM408.8,479.5L415.6,478.5L425.8,477.5L434.3,478.7L422.4,480.1ZM498.1,482.1L502.3,478.5L512.5,481.1L505.7,483.1ZM568.7,490.0L578.9,488.5L577.2,492.4L570.4,492.0ZM582.3,489.5L589.1,489.1L585.7,490.4ZM639.3,497.8L641.9,496.8L643.6,497.6ZM29.3,496.8L33.6,497.4L31.0,498.2ZM577.2,547.8L579.8,546.8L578.9,540.8L581.5,541.8L579.2,537.8L579.8,533.8L578.4,531.0L577.5,532.8L576.7,536.8L577.5,539.8L577.0,544.8ZM573.8,556.7L575.8,556.1L579.2,555.7L583.2,553.1L582.6,551.1L577.2,548.8L576.3,552.7L574.3,553.3L573.6,555.1ZM575.3,556.7L576.3,559.1L577.0,561.7L575.3,564.7L575.0,567.7L574.1,569.3L572.4,569.3L571.2,570.2L569.5,570.4L568.4,570.8L566.7,572.6L565.3,570.6L562.7,571.0L560.5,572.0L558.3,571.6L559.3,570.2L561.9,568.7L566.1,568.5L567.8,565.7L569.4,564.9L572.1,563.7L573.5,560.7L574.0,558.1ZM556.3,573.2L557.6,577.2L559.0,576.6L560.2,573.6L558.5,571.8ZM561.0,573.2L564.8,572.0L563.9,571.0L561.7,571.6ZM539.9,593.5L541.5,589.2L543.2,589.5L542.3,592.5L541.1,595.5ZM520.4,601.1L522.8,599.3L524.5,600.3L521.9,603.1ZM471.4,623.4L472.1,619.8L474.9,624.4L473.8,627.0L471.7,627.0ZM539.8,607.5L540.6,602.5L543.5,602.5L543.7,605.5L542.3,607.9L543.2,610.8L546.6,613.4L544.9,612.4L541.0,610.4ZM543.2,625.4L546.6,622.4L550.0,620.8L550.8,625.4L549.1,627.4L546.6,625.8ZM546.9,614.4L549.5,615.0L548.6,618.4L547.4,617.0ZM544.0,617.8L545.2,616.4L545.7,619.4ZM535.0,622.6L538.9,618.4L538.1,617.8ZM521.1,636.3L522.1,635.3L524.5,636.1L527.9,632.9L532.1,629.3L534.7,625.6L538.4,629.0L536.4,630.5L536.0,635.3L538.1,637.3L535.5,639.3L533.8,643.3L533.8,646.3L530.4,647.3L527.9,645.7L525.3,646.1L523.1,644.9L522.8,641.9L521.1,639.3ZM497.7,628.2L501.5,629.0L503.2,630.9L506.6,634.9L509.1,636.7L512.2,640.9L513.4,644.3L515.9,645.7L515.6,650.8L513.4,650.8L509.7,647.3L507.1,643.3L504.9,639.3L503.2,635.9L499.8,632.1ZM514.6,652.8L515.9,651.0L519.9,651.6L522.8,653.0L527.0,653.0L530.2,654.6L530.4,656.6L526.2,656.0L522.8,655.4L518.5,654.4L516.6,654.0ZM538.7,650.2L539.1,646.3L537.7,644.9L538.9,639.3L539.8,637.9L541.5,636.7L544.9,637.3L547.9,636.3L547.1,638.5L541.5,638.3L540.3,641.1L542.3,642.9L545.4,640.9L544.5,644.5L543.5,646.3L544.5,648.3L542.3,648.9L541.5,645.3L540.3,644.9L540.4,650.2ZM531.3,655.6L533.0,656.8L538.1,656.6L540.6,655.8L543.2,656.2L544.9,655.8L542.3,657.0L538.9,657.0L534.7,657.2ZM538.1,658.2L541.1,658.6L540.1,659.8ZM546.6,659.2L548.6,656.2L552.2,656.0L550.0,657.8ZM552.5,635.7L553.4,640.3L554.6,637.3L553.7,634.9ZM553.4,645.3L558.1,645.9L555.9,646.9ZM550.0,645.7L552.0,645.9L550.8,646.9ZM558.5,641.3L560.7,640.1L563.6,641.1L565.3,645.9L570.1,642.3L575.5,644.5L581.5,646.9L583.7,649.8L586.7,651.2L587.1,652.8L589.1,657.2L592.2,659.6L590.0,660.0L585.7,659.2L584.0,655.6L580.6,654.6L579.2,657.2L575.5,657.4L572.1,655.2L570.4,654.8L570.1,649.8L566.1,647.9L561.9,647.3L560.2,644.9L562.7,643.7L560.2,642.9ZM588.3,650.2L591.7,650.2L594.2,647.7L593.4,649.2L590.8,651.8ZM592.2,644.7L595.1,646.3L595.9,648.3L593.4,645.3ZM599.3,651.2L601.0,652.8L600.2,653.2ZM602.7,655.2L606.1,655.2L609.2,658.2L607.0,658.2ZM608.7,656.2L610.4,658.2L609.2,658.2ZM618.9,669.1L620.2,670.1L619.7,671.1ZM614.6,679.5L618.0,681.1L619.7,683.7L616.3,682.1ZM637.3,674.1L639.3,673.7L639.0,675.5L637.3,675.3ZM581.6,720.3L587.9,720.7L587.7,723.3L585.7,726.1L583.2,724.9L582.0,722.5ZM629.4,707.8L632.2,709.5L633.3,711.9L634.9,713.9L638.4,714.1L639.3,714.3L636.7,717.3L636.4,718.9L633.9,722.1L632.7,721.3L633.3,718.7L631.3,717.3L632.7,714.9L632.2,711.9ZM629.4,719.9L632.2,721.5L631.5,723.9L629.6,726.3L626.9,727.9L626.2,730.6L623.1,732.0L618.9,730.8L619.2,728.8L621.9,726.9L625.7,724.9L627.4,722.3ZM419.5,663.2L421.5,670.1L420.0,673.1L418.1,680.1L416.4,687.1L415.6,689.0L412.2,690.0L410.5,688.1L409.3,683.1L411.0,679.1L410.5,674.1L414.7,670.7L417.3,666.2ZM349.6,557.7L352.3,557.7L351.9,561.3L350.1,561.7ZM350.2,553.7L351.8,554.1L351.4,556.9L350.2,556.1ZM356.7,563.7L362.1,563.1L361.3,566.3L356.9,564.5ZM375.6,568.7L380.3,569.3L377.3,569.8ZM390.6,569.6L394.3,568.5L392.6,570.4ZM339.9,560.5L341.4,560.1L341.0,561.1ZM353.5,528.9L356.9,527.9L356.5,529.5L354.3,529.8ZM305.8,583.6L309.2,583.2L312.6,581.6ZM292.2,564.1L292.7,564.3ZM294.8,607.5L296.8,606.1L295.6,609.4ZM409.3,662.2L411.1,663.6ZM429.7,680.9L430.5,681.7ZM433.3,679.1L433.9,679.9ZM460.7,630.9L460.8,631.7ZM426.6,614.4L428.3,614.2ZM493.0,613.4L493.8,615.4L493.3,617.4ZM29.3,672.1L29.7,672.7ZM43.0,666.4L43.8,667.2ZM81.2,674.1L81.8,674.7ZM37.5,681.3L37.9,681.7ZM63.4,681.5h1M618.9,730.4L620.6,733.2L621.8,732.4ZM454.7,736.8L455.5,738.0L453.5,737.4ZM273.5,746.8L270.9,747.2L274.3,748.0ZM232.2,763.7L236.1,763.1ZM393.8,577.0L395.0,574.6L396.0,571.8L396.7,568.7L396.9,566.5L396.0,566.5L393.4,567.3L390.9,567.5L387.5,566.7L384.9,566.3L382.4,565.7L380.7,562.7L380.7,559.7L380.2,558.5L378.1,557.9L375.6,559.1L374.1,558.7L375.2,561.1L373.9,562.7L376.4,563.7L374.7,564.7L373.9,566.7L372.5,565.7L371.5,563.1L370.0,560.3L368.6,557.7L368.8,555.7L367.1,554.7L364.5,553.1L362.7,552.3L359.9,549.4L358.7,548.6L356.5,549.2L356.7,551.1L358.6,552.5L359.8,554.9L362.7,555.9L363.7,557.3L367.1,559.5L364.7,561.7L363.8,563.1L362.1,563.7L362.5,560.7L361.1,559.3L358.6,557.3L356.0,555.7L353.5,553.7L353.0,551.9L350.6,550.9L348.4,552.1L345.8,553.5L343.3,552.7L341.0,553.3L341.0,555.9L337.3,557.7L335.6,560.1L335.1,560.9L335.9,562.1L334.7,563.3L333.9,564.5L331.9,566.3L328.1,566.3L326.1,567.7L324.9,566.1L322.8,565.3L320.5,565.7L320.6,562.7L319.4,562.3L320.3,559.7L320.6,556.7L320.5,554.7L319.8,553.7L322.0,552.3L325.7,552.5L329.6,552.7L332.5,552.9L333.2,550.7L333.6,547.8L331.9,545.4L327.9,544.0L327.9,542.6L330.5,542.2L333.0,542.4L332.9,540.6L335.9,540.8L338.2,539.4L338.3,538.0L339.9,537.6L341.7,537.0L343.3,535.4L343.8,533.8L345.8,532.8L347.5,532.8L350.1,532.6L350.2,530.0L349.7,528.9L349.4,526.7L350.2,525.7L352.6,524.7L353.5,525.5L353.1,527.5L354.0,527.9L352.3,529.8L354.1,531.2L356.0,531.4L358.6,531.0L360.3,532.0L363.7,530.8L367.1,530.4L369.1,531.0L371.7,529.5L371.3,526.9L372.2,524.9L373.9,524.5L375.6,525.9L376.9,524.9L376.9,523.3L375.6,522.1L378.1,520.9L383.2,520.9L386.6,519.9L384.1,518.7L380.7,519.1L374.6,520.1L372.2,518.3L372.0,515.9L371.7,513.9L373.9,512.3L377.3,510.1L378.6,509.0L377.3,508.4L373.5,508.4L372.0,510.9L369.6,512.5L367.1,514.3L365.2,516.9L364.9,518.7L367.2,519.9L367.1,521.3L363.7,524.3L363.7,526.9L361.1,527.5L359.8,529.1L357.5,528.7L357.0,527.3L355.8,524.9L354.7,522.1L353.5,520.9L352.6,521.9L350.1,523.3L347.5,523.9L345.1,522.7L344.4,519.9L344.1,516.9L345.0,515.3L347.5,514.3L350.1,512.9L353.5,510.9L356.9,508.4L358.6,505.4L361.1,503.4L363.7,502.0L367.1,500.4L371.3,499.6L374.7,499.0L379.0,498.0L383.2,498.0L386.6,499.4L388.3,500.0L390.9,500.6L392.6,501.4L397.7,502.0L402.8,504.0L405.4,505.4L405.5,508.0L401.1,507.8L395.1,507.2L394.3,509.9L397.7,511.1L399.4,512.3L402.8,510.9L404.5,510.7L407.1,507.4L410.5,508.0L410.8,505.0L409.6,503.0L413.9,504.0L417.3,504.6L421.5,503.6L426.6,503.0L430.0,503.2L434.3,502.2L437.7,502.0L439.4,500.4L444.5,501.2L449.6,503.0L452.1,503.4L448.7,499.0L449.6,497.0L452.1,494.4L453.8,494.0L456.4,494.4L459.0,497.0L458.1,500.0L459.8,503.0L460.8,501.0L462.4,498.8L459.8,497.0L459.0,494.4L464.1,495.6L468.3,495.2L472.6,493.0L476.8,494.0L482.8,492.4L484.5,490.0L488.7,488.9L493.8,488.1L500.6,487.7L505.7,487.3L512.5,484.7L516.8,485.3L518.5,486.9L524.5,486.7L528.7,488.5L529.2,492.0L527.0,492.6L529.6,493.0L536.4,493.0L539.8,494.0L546.6,492.8L551.7,493.0L555.1,495.0L558.5,498.0L561.9,497.2L567.0,496.8L572.1,497.0L573.8,495.2L578.9,494.6L584.0,495.4L590.8,496.8L594.2,498.2L599.3,498.0L604.4,498.2L607.8,499.6L611.2,500.8L616.3,500.8L619.7,500.4L624.8,499.8L628.2,500.2L633.3,500.4L638.4,501.2L642.7,502.2M641.0,509.9L639.3,510.7L637.6,514.9L632.5,516.3L628.2,518.3L625.3,519.9L621.4,518.9L618.0,520.3L614.6,520.1L613.8,521.9L611.2,523.9L613.3,524.3L612.1,527.5L610.7,529.8L608.7,531.8L605.8,534.0L602.2,537.8L601.0,534.8L600.7,530.8L600.2,526.9L602.2,524.3L605.3,523.7L607.8,520.7L608.7,516.3L604.4,516.3L599.3,521.3L594.2,521.9L589.1,520.9L584.0,521.3L578.9,521.3L573.8,523.5L569.5,526.7L567.5,530.4L571.2,531.8L574.6,533.2L576.2,535.4L574.6,539.8L573.8,543.8L571.2,545.8L568.7,548.8L566.1,552.1L561.9,554.1L559.3,554.7L558.0,555.1L556.3,557.7L555.9,559.7L553.4,561.7L555.8,565.7L555.6,568.7L552.5,570.4L550.5,570.6L551.0,568.7L550.8,565.7L548.8,564.3L547.9,560.7L543.5,561.7L541.8,562.1L542.8,559.7L543.5,558.5L541.5,558.1L538.9,559.9L537.2,561.5L535.9,562.1L537.2,563.7L538.1,565.3L540.6,564.3L544.0,564.9L543.2,566.1L540.6,567.5L538.4,569.6L540.3,571.0L541.3,574.4L543.0,576.2L542.7,577.8L543.0,579.6L542.3,582.6L540.6,584.6L538.9,587.6L537.2,590.5L534.7,592.5L532.1,593.9L528.7,595.1L525.3,596.5L523.1,598.9L522.2,596.5L520.2,596.3L517.6,597.5L516.8,599.1L515.4,601.5L516.8,604.5L518.5,606.9L520.7,609.1L521.6,612.4L521.4,616.2L519.4,617.8L517.3,618.8L514.2,622.2L513.9,619.8L513.4,618.6L510.8,616.4L509.7,615.0L507.4,614.0L505.7,612.8L505.7,615.0L504.4,618.4L505.4,621.4L506.3,624.4L508.0,625.6L509.7,627.4L511.4,629.7L511.5,632.3L512.9,636.3L511.7,636.7L510.0,635.3L508.0,633.7L506.4,630.3L506.3,627.4L505.2,625.6L503.0,623.4L503.2,619.8L503.4,617.4L502.7,613.4L501.8,608.5L501.0,605.9L499.8,606.5L497.7,607.9L496.0,607.5L496.4,604.5L495.5,601.5L493.8,599.7L492.6,598.1L492.1,595.9L490.8,594.3L489.2,595.7L487.0,596.1L485.7,596.1L483.3,597.5L482.8,599.5L480.2,600.9L477.7,603.5L475.6,606.3L473.4,607.9L472.1,609.4L472.1,613.4L471.4,616.4L471.4,618.8L469.8,620.8L468.8,621.6L467.5,623.2L465.8,620.4L464.6,617.4L462.9,613.8L461.8,609.8L460.7,606.5L459.6,601.7L459.5,598.5L459.1,596.7L458.6,595.1L455.5,597.7L453.0,594.9L455.2,593.7L452.1,592.5L450.3,591.5L449.1,588.8L445.3,589.0L440.2,589.2L436.8,588.6L433.1,588.0L432.2,585.4L431.2,585.4L428.3,586.4L425.8,585.6L423.2,583.8L421.5,581.2L419.8,579.6L417.3,579.6L417.8,581.0L418.1,583.0L419.8,585.6L420.7,587.0L421.7,589.5L422.9,587.6L423.4,589.5L424.9,591.1L427.5,591.1L430.0,588.6L431.4,587.2L431.6,589.7L433.4,591.9L435.6,592.5L437.3,594.7L435.1,598.5L433.9,601.5L431.7,603.5L429.2,605.5L424.4,608.3L419.8,610.2L417.3,611.4L413.0,613.4L409.6,614.2L408.8,611.4L408.2,608.1L407.1,604.5L405.2,600.5L402.3,596.5L401.1,592.5L398.9,588.6L396.3,584.6L395.0,580.6L393.8,577.0M30.2,502.2L34.5,503.6L38.7,505.8L43.0,506.2L46.4,507.6L43.8,509.0L42.1,509.9L40.4,511.1L37.0,510.3L34.5,509.0L31.0,509.6L28.5,509.9M29.0,805.5L51.5,807.8L68.0,809.3L86.0,808.2L74.0,805.5L72.5,801.8L86.0,799.5L74.0,797.7L65.0,792.8L86.0,791.3L98.0,789.0L104.0,787.5L116.0,789.8L125.0,784.5L129.0,785.3L162.6,781.8L190.0,781.5L205.5,783.3L205.5,779.5L208.5,778.0L214.5,776.5L217.5,772.0L225.0,767.5L228.0,766.0L234.0,764.5L241.6,764.5L229.5,768.3L228.0,772.0L228.0,776.5L231.8,781.0L232.5,784.0L229.5,787.0L223.5,790.0L220.5,792.3L232.5,791.8L244.6,793.8L255.0,794.5L270.0,794.3L280.0,792.3L287.0,789.6L305.5,786.4L336.0,778.0L393.6,775.8L428.0,769.8L450.0,770.0L455.8,778.0L460.0,774.0L474.0,773.5L511.0,768.9L543.4,769.8L560.0,770.5L570.0,770.7L580.0,772.0L587.4,775.0L600.0,775.7L610.0,777.6L620.0,780.0L627.3,781.3L622.3,784.4L615.0,788.2L613.6,792.0L617.4,794.4L610.0,795.6L608.6,798.0L613.6,801.9L622.3,804.4L627.3,805.4L643.0,805.4M56.0,795.0L62.0,795.0L62.0,798.0L56.0,798.0ZM618.6,792.5L624.8,792.5ZM123.0,487.5L131.0,486.0L139.0,484.5L145.0,483.0L150.0,483.5L155.0,486.0L160.0,487.0L165.0,487.5L170.0,489.0L172.0,487.5L176.0,489.0L176.0,491.0L168.0,491.5L160.0,490.5L150.0,489.5L140.0,489.5L130.0,490.0L123.0,490.0ZM122.0,492.5L132.0,492.0L142.0,491.8L152.0,493.0L158.0,494.5L165.0,494.0L171.0,493.0L172.0,495.5L165.0,497.0L155.0,497.0L145.0,496.0L135.0,496.5L125.0,496.0ZM121.0,498.5L130.0,498.0L140.0,497.8L150.0,498.5L160.0,499.0L168.0,499.5L170.0,501.5L160.0,502.0L150.0,501.5L138.0,501.8L128.0,501.5L121.0,501.0ZM174.0,480.0L182.0,479.0L190.0,479.5L190.0,483.0L183.0,484.0L176.0,483.0ZM175.0,493.0L182.0,491.0L190.0,491.0L190.0,497.0L183.0,498.0L176.0,496.5ZM170.0,503.0L176.0,501.0L182.0,502.0L186.0,505.0L180.0,506.0L172.0,505.5ZM140.0,481.5L148.0,480.5L156.0,481.0L150.0,482.5ZM128.0,484.0L135.0,483.0L138.0,484.5L131.0,485.2Z" fill="none" stroke="#000" stroke-width="1.2" stroke-linejoin="round"/>
<path d="M49.8,519.4H160.8M160.8,495.0V578.3M114.8,519.4V534.5M160.8,538.7H236.4M190.5,538.7V591.7M234.2,538.7V559.5M125.0,578.6H190.5M190.5,592.2H223.5M197.8,613.4H233.6M197.8,613.4V618.4M183.0,618.4H197.8M211.0,678.5H273.2M412.0,499.4H643.0M403.0,502.5V578.3M403.0,539.7H585.8M318.6,542.2H403.0M462.2,539.7V578.3M505.6,539.7V630.0M305.0,578.3H505.6M304.2,606.3H436.5M373.8,603.3V662.2M350.5,662.2H426.2M505.6,599.8H552.3M489.5,628.8H505.6M445.6,578.3V596.0M502.0,660.0H598.5M521.4,694.2H643.0M641.3,499.4V539.7" fill="none" stroke="#1a1a1a" stroke-width="1.1"/>
</g>
<rect x="106.0" y="492.8" width="11.7" height="11.6" fill="#a8d870" stroke="#111" stroke-width="1.1"/><path d="M109.0,498.6H114.8M111.9,495.7V501.4" stroke="#111" stroke-width="1.25"/><rect x="106.0" y="504.4" width="11.7" height="11.6" fill="#a8d870" stroke="#111" stroke-width="1.1"/><path d="M109.0,510.2H114.8M111.9,507.3V513.1" stroke="#111" stroke-width="1.25"/><rect x="134.6" y="535.5" width="11.7" height="11.6" fill="#a8d870" stroke="#111" stroke-width="1.1"/><path d="M137.5,541.3H143.3M140.4,538.4V544.2" stroke="#111" stroke-width="1.25"/><rect x="134.6" y="547.1" width="11.7" height="11.6" fill="#a7a9ab" stroke="#111" stroke-width="1.1"/><path d="M140.4,548.7V557.1" stroke="#111" stroke-width="1.25"/><rect x="171.1" y="548.5" width="11.7" height="11.6" fill="#a7a9ab" stroke="#111" stroke-width="1.1"/><path d="M176.9,550.1V558.5" stroke="#111" stroke-width="1.25"/><rect x="171.1" y="560.1" width="11.7" height="11.6" fill="#a7a9ab" stroke="#111" stroke-width="1.1"/><path d="M176.9,561.7V570.1" stroke="#111" stroke-width="1.25"/><rect x="207.0" y="506.1" width="11.7" height="11.6" fill="#a8d870" stroke="#111" stroke-width="1.1"/><path d="M209.9,511.9H215.7M212.8,509.0V514.8" stroke="#111" stroke-width="1.25"/><rect x="207.0" y="517.6" width="11.7" height="11.6" fill="#a8d870" stroke="#111" stroke-width="1.1"/><path d="M209.9,523.4H215.7M212.8,520.5V526.3" stroke="#111" stroke-width="1.25"/><rect x="207.9" y="553.1" width="11.7" height="11.6" fill="#a8d870" stroke="#111" stroke-width="1.1"/><path d="M210.8,558.9H216.6M213.7,556.0V561.8" stroke="#111" stroke-width="1.25"/><rect x="207.9" y="564.8" width="11.7" height="11.6" fill="#a7a9ab" stroke="#111" stroke-width="1.1"/><path d="M213.7,566.3V574.8" stroke="#111" stroke-width="1.25"/><rect x="170.1" y="589.0" width="11.7" height="11.6" fill="#f9d56c" stroke="#111" stroke-width="1.1"/><path d="M173.0,594.8H178.8" stroke="#111" stroke-width="1.25"/><rect x="170.1" y="600.6" width="11.7" height="11.6" fill="#a7a9ab" stroke="#111" stroke-width="1.1"/><path d="M175.9,602.2V610.6" stroke="#111" stroke-width="1.25"/><rect x="226.4" y="641.0" width="11.7" height="11.6" fill="#ffffff" stroke="#111" stroke-width="1.1"/><circle cx="232.2" cy="646.8" r="3.0" fill="none" stroke="#111" stroke-width="1.3"/><rect x="226.4" y="652.6" width="11.7" height="11.6" fill="#ffffff" stroke="#111" stroke-width="1.1"/><circle cx="232.2" cy="658.4" r="3.0" fill="none" stroke="#111" stroke-width="1.3"/><rect x="226.6" y="689.0" width="11.7" height="11.6" fill="#a7a9ab" stroke="#111" stroke-width="1.1"/><path d="M232.4,690.6V699.0" stroke="#111" stroke-width="1.25"/><rect x="226.6" y="700.6" width="11.7" height="11.6" fill="#a7a9ab" stroke="#111" stroke-width="1.1"/><path d="M232.4,702.2V710.6" stroke="#111" stroke-width="1.25"/><rect x="385.6" y="514.5" width="11.7" height="11.6" fill="#a8d870" stroke="#111" stroke-width="1.1"/><path d="M388.5,520.3H394.3M391.4,517.4V523.2" stroke="#111" stroke-width="1.25"/><rect x="385.6" y="526.1" width="11.7" height="11.6" fill="#ffffff" stroke="#111" stroke-width="1.1"/><circle cx="391.4" cy="531.9" r="3.0" fill="none" stroke="#111" stroke-width="1.3"/><rect x="363.4" y="547.9" width="11.7" height="11.6" fill="#ffffff" stroke="#111" stroke-width="1.1"/><circle cx="369.2" cy="553.7" r="3.0" fill="none" stroke="#111" stroke-width="1.3"/><rect x="363.4" y="559.5" width="11.7" height="11.6" fill="#a7a9ab" stroke="#111" stroke-width="1.1"/><path d="M369.2,561.1V569.5" stroke="#111" stroke-width="1.25"/><rect x="397.4" y="581.4" width="11.7" height="11.6" fill="#a7a9ab" stroke="#111" stroke-width="1.1"/><path d="M403.2,583.0V591.4" stroke="#111" stroke-width="1.25"/><rect x="397.4" y="593.0" width="11.7" height="11.6" fill="#52a844" stroke="#111" stroke-width="1.1"/><path d="M398.9,598.8H407.5M403.2,594.4V603.2" stroke="#111" stroke-width="1.25"/><rect x="344.4" y="624.1" width="11.7" height="11.6" fill="#a8d870" stroke="#111" stroke-width="1.1"/><path d="M347.3,629.9H353.1M350.2,627.0V632.8" stroke="#111" stroke-width="1.25"/><rect x="344.4" y="635.8" width="11.7" height="11.6" fill="#a7a9ab" stroke="#111" stroke-width="1.1"/><path d="M350.2,637.3V645.8" stroke="#111" stroke-width="1.25"/><rect x="406.2" y="624.1" width="11.7" height="11.6" fill="#a8d870" stroke="#111" stroke-width="1.1"/><path d="M409.1,629.9H414.9M412.0,627.0V632.8" stroke="#111" stroke-width="1.25"/><rect x="406.2" y="635.8" width="11.7" height="11.6" fill="#a7a9ab" stroke="#111" stroke-width="1.1"/><path d="M412.0,637.3V645.8" stroke="#111" stroke-width="1.25"/><rect x="376.8" y="673.0" width="11.7" height="11.6" fill="#a7a9ab" stroke="#111" stroke-width="1.1"/><path d="M382.6,674.6V683.0" stroke="#111" stroke-width="1.25"/><rect x="376.8" y="684.6" width="11.7" height="11.6" fill="#f9d56c" stroke="#111" stroke-width="1.1"/><path d="M379.7,690.4H385.5" stroke="#111" stroke-width="1.25"/><rect x="535.8" y="505.6" width="11.7" height="11.6" fill="#52a844" stroke="#111" stroke-width="1.1"/><path d="M537.4,511.4H546.0M541.7,507.0V515.8" stroke="#111" stroke-width="1.25"/><rect x="535.8" y="517.1" width="11.7" height="11.6" fill="#a8d870" stroke="#111" stroke-width="1.1"/><path d="M538.8,522.9H544.6M541.7,520.0V525.8" stroke="#111" stroke-width="1.25"/><rect x="431.9" y="546.9" width="11.7" height="11.6" fill="#a8d870" stroke="#111" stroke-width="1.1"/><path d="M434.8,552.7H440.6M437.7,549.8V555.6" stroke="#111" stroke-width="1.25"/><rect x="431.9" y="558.5" width="11.7" height="11.6" fill="#a7a9ab" stroke="#111" stroke-width="1.1"/><path d="M437.7,560.1V568.5" stroke="#111" stroke-width="1.25"/><rect x="479.2" y="546.9" width="11.7" height="11.6" fill="#a8d870" stroke="#111" stroke-width="1.1"/><path d="M482.2,552.7H488.0M485.1,549.8V555.6" stroke="#111" stroke-width="1.25"/><rect x="479.2" y="558.5" width="11.7" height="11.6" fill="#a8d870" stroke="#111" stroke-width="1.1"/><path d="M482.2,564.3H488.0M485.1,561.4V567.2" stroke="#111" stroke-width="1.25"/><rect x="534.8" y="555.5" width="11.7" height="11.6" fill="#a8d870" stroke="#111" stroke-width="1.1"/><path d="M537.8,561.3H543.6M540.7,558.4V564.2" stroke="#111" stroke-width="1.25"/><rect x="534.8" y="567.1" width="11.7" height="11.6" fill="#a8d870" stroke="#111" stroke-width="1.1"/><path d="M537.8,572.9H543.6M540.7,570.0V575.8" stroke="#111" stroke-width="1.25"/><rect x="475.6" y="589.1" width="11.7" height="11.6" fill="#a7a9ab" stroke="#111" stroke-width="1.1"/><path d="M481.4,590.7V599.1" stroke="#111" stroke-width="1.25"/><rect x="475.6" y="600.8" width="11.7" height="11.6" fill="#a8d870" stroke="#111" stroke-width="1.1"/><path d="M478.5,606.5H484.3M481.4,603.6V609.4" stroke="#111" stroke-width="1.25"/><rect x="544.3" y="621.5" width="11.7" height="11.6" fill="#ffffff" stroke="#111" stroke-width="1.1"/><circle cx="550.2" cy="627.3" r="3.0" fill="none" stroke="#111" stroke-width="1.3"/><rect x="544.3" y="633.1" width="11.7" height="11.6" fill="#a7a9ab" stroke="#111" stroke-width="1.1"/><path d="M550.2,634.7V643.1" stroke="#111" stroke-width="1.25"/><rect x="584.8" y="665.3" width="11.7" height="11.6" fill="#a7a9ab" stroke="#111" stroke-width="1.1"/><path d="M590.6,666.9V675.3" stroke="#111" stroke-width="1.25"/><rect x="584.8" y="676.9" width="11.7" height="11.6" fill="#f9d56c" stroke="#111" stroke-width="1.1"/><path d="M587.7,682.7H593.5" stroke="#111" stroke-width="1.25"/><rect x="586.3" y="698.2" width="11.7" height="11.6" fill="#a7a9ab" stroke="#111" stroke-width="1.1"/><path d="M592.2,699.8V708.2" stroke="#111" stroke-width="1.25"/><rect x="586.3" y="709.9" width="11.7" height="11.6" fill="#f9d56c" stroke="#111" stroke-width="1.1"/><path d="M589.3,715.6H595.1" stroke="#111" stroke-width="1.25"/><rect x="415.6" y="783.5" width="11.7" height="11.6" fill="#a8d870" stroke="#111" stroke-width="1.1"/><path d="M418.5,789.3H424.3M421.4,786.4V792.2" stroke="#111" stroke-width="1.25"/><rect x="415.6" y="795.1" width="11.7" height="11.6" fill="#a8d870" stroke="#111" stroke-width="1.1"/><path d="M418.5,800.9H424.3M421.4,798.0V803.8" stroke="#111" stroke-width="1.25"/>
<line x1="25" y1="519.9" x2="29.3" y2="519.9" stroke="#222" stroke-width="1"/>
<text x="16.6" y="523.3" font-size="9.6" font-weight="normal" text-anchor="end" fill="#1c1c1c" textLength="9.6" lengthAdjust="spacingAndGlyphs">60</text>
<text x="17.0" y="522.5" font-size="8.5" fill="#666">°</text>
<line x1="25" y1="579.6" x2="29.3" y2="579.6" stroke="#222" stroke-width="1"/>
<text x="16.6" y="583.0" font-size="9.6" font-weight="normal" text-anchor="end" fill="#1c1c1c" textLength="9.6" lengthAdjust="spacingAndGlyphs">30</text>
<text x="17.0" y="582.2" font-size="8.5" fill="#666">°</text>
<line x1="25" y1="639.3" x2="29.3" y2="639.3" stroke="#222" stroke-width="1"/>
<text x="16.6" y="642.7" font-size="9.6" font-weight="normal" text-anchor="end" fill="#1c1c1c" textLength="4.8" lengthAdjust="spacingAndGlyphs">0</text>
<text x="17.0" y="641.9" font-size="8.5" fill="#666">°</text>
<line x1="25" y1="699.0" x2="29.3" y2="699.0" stroke="#222" stroke-width="1"/>
<text x="16.6" y="702.4" font-size="9.6" font-weight="normal" text-anchor="end" fill="#1c1c1c" textLength="9.6" lengthAdjust="spacingAndGlyphs">30</text>
<text x="17.0" y="701.6" font-size="8.5" fill="#666">°</text>
<line x1="25" y1="758.7" x2="29.3" y2="758.7" stroke="#222" stroke-width="1"/>
<text x="16.6" y="762.1" font-size="9.6" font-weight="normal" text-anchor="end" fill="#1c1c1c" textLength="9.6" lengthAdjust="spacingAndGlyphs">60</text>
<text x="17.0" y="761.3" font-size="8.5" fill="#666">°</text>
<line x1="29.3" y1="813.2" x2="29.3" y2="817.0" stroke="#222" stroke-width="1"/>
<text x="20.5" y="829.2" font-size="9.9" font-weight="normal" text-anchor="start" fill="#1c1c1c" textLength="14.399999999999999" lengthAdjust="spacingAndGlyphs">180</text>
<text x="35.1" y="828.2" font-size="8.5" fill="#666">°</text>
<line x1="131.4" y1="813.2" x2="131.4" y2="817.0" stroke="#222" stroke-width="1"/>
<text x="122.6" y="829.2" font-size="9.9" font-weight="normal" text-anchor="start" fill="#1c1c1c" textLength="14.399999999999999" lengthAdjust="spacingAndGlyphs">120</text>
<text x="137.2" y="828.2" font-size="8.5" fill="#666">°</text>
<line x1="233.5" y1="813.2" x2="233.5" y2="817.0" stroke="#222" stroke-width="1"/>
<text x="227.1" y="829.2" font-size="9.9" font-weight="normal" text-anchor="start" fill="#1c1c1c" textLength="9.6" lengthAdjust="spacingAndGlyphs">60</text>
<text x="236.9" y="828.2" font-size="8.5" fill="#666">°</text>
<line x1="335.6" y1="813.2" x2="335.6" y2="817.0" stroke="#222" stroke-width="1"/>
<text x="331.6" y="829.2" font-size="9.9" font-weight="normal" text-anchor="start" fill="#1c1c1c" textLength="4.8" lengthAdjust="spacingAndGlyphs">0</text>
<text x="336.6" y="828.2" font-size="8.5" fill="#666">°</text>
<line x1="437.7" y1="813.2" x2="437.7" y2="817.0" stroke="#222" stroke-width="1"/>
<text x="431.3" y="829.2" font-size="9.9" font-weight="normal" text-anchor="start" fill="#1c1c1c" textLength="9.6" lengthAdjust="spacingAndGlyphs">60</text>
<text x="441.1" y="828.2" font-size="8.5" fill="#666">°</text>
<line x1="539.8" y1="813.2" x2="539.8" y2="817.0" stroke="#222" stroke-width="1"/>
<text x="531.0" y="829.2" font-size="9.9" font-weight="normal" text-anchor="start" fill="#1c1c1c" textLength="14.399999999999999" lengthAdjust="spacingAndGlyphs">120</text>
<text x="545.6" y="828.2" font-size="8.5" fill="#666">°</text>
<line x1="641.9" y1="813.2" x2="641.9" y2="817.0" stroke="#222" stroke-width="1"/>
<text x="633.1" y="829.2" font-size="9.9" font-weight="normal" text-anchor="start" fill="#1c1c1c" textLength="14.399999999999999" lengthAdjust="spacingAndGlyphs">180</text>
<text x="647.7" y="828.2" font-size="8.5" fill="#666">°</text>
<text x="43.7" y="847.0" font-size="9.3" font-weight="bold" text-anchor="start" fill="#1c1c1c" textLength="131" lengthAdjust="spacingAndGlyphs">Изменение уровня осадков</text>
<rect x="44.6" y="854.8" width="11.6" height="11.8" fill="#55a846" stroke="#1a1a1a" stroke-width="1.0"/><path d="M46.2,860.7H54.6M50.4,856.5V864.9" stroke="#111" stroke-width="1.1"/>
<text x="62.4" y="864.0" font-size="10" font-weight="normal" text-anchor="start" fill="#141414" textLength="116.6" lengthAdjust="spacingAndGlyphs">Значительное повышение</text>
<rect x="44.6" y="866.6" width="11.6" height="11.8" fill="#a9d77c" stroke="#1a1a1a" stroke-width="1.0"/><path d="M47.6,872.6H53.2M50.4,869.8V875.4" stroke="#111" stroke-width="1.1"/>
<text x="62.4" y="876.0" font-size="10" font-weight="normal" text-anchor="start" fill="#141414" textLength="108" lengthAdjust="spacingAndGlyphs">Небольшое повышение</text>
<rect x="44.6" y="878.5" width="11.6" height="11.8" fill="#ffffff" stroke="#1a1a1a" stroke-width="1.0"/><circle cx="50.4" cy="884.4" r="2.2" fill="none" stroke="#111" stroke-width="1.2"/>
<text x="62.4" y="888.0" font-size="10" font-weight="normal" text-anchor="start" fill="#141414" textLength="72" lengthAdjust="spacingAndGlyphs">Без изменений</text>
<rect x="44.6" y="890.3" width="11.6" height="11.8" fill="#f8d76c" stroke="#1a1a1a" stroke-width="1.0"/><path d="M47.6,896.3H53.2" stroke="#111" stroke-width="1.1"/>
<text x="62.4" y="900.0" font-size="10" font-weight="normal" text-anchor="start" fill="#141414" textLength="93" lengthAdjust="spacingAndGlyphs">Небольшое снижение</text>
<rect x="44.6" y="902.2" width="11.6" height="11.8" fill="#c9924c" stroke="#1a1a1a" stroke-width="1.0"/><path d="M46.2,908.1H54.6" stroke="#111" stroke-width="1.2"/>
<text x="62.4" y="912.0" font-size="10" font-weight="normal" text-anchor="start" fill="#141414" textLength="110" lengthAdjust="spacingAndGlyphs">Значительное снижение</text>
<rect x="44.6" y="914.0" width="11.6" height="11.8" fill="#a9a9a9" stroke="#1a1a1a" stroke-width="1.0"/><path d="M50.4,916.0V924.0" stroke="#111" stroke-width="1.1"/>
<text x="62.4" y="924.0" font-size="10" font-weight="normal" text-anchor="start" fill="#141414" textLength="92" lengthAdjust="spacingAndGlyphs">Знак несоответствия</text>
<text x="197.7" y="847.4" font-size="9.9" font-weight="bold" text-anchor="start" fill="#1c1c1c" textLength="295" lengthAdjust="spacingAndGlyphs">Изменение глобального среднего уровня осадков (мм день<tspan font-size="6.5" dy="-3.8">-1</tspan><tspan dy="3.8">)</tspan></text>
<rect x="198.90" y="857" width="32.06" height="12" fill="#c8914b"/>
<rect x="230.66" y="857" width="32.06" height="12" fill="#dba85f"/>
<rect x="262.42" y="857" width="32.06" height="12" fill="#edc06c"/>
<rect x="294.18" y="857" width="32.06" height="12" fill="#fbd978"/>
<rect x="325.94" y="857" width="32.06" height="12" fill="#fdf0b8"/>
<rect x="357.70" y="857" width="32.06" height="12" fill="#fffce4"/>
<rect x="389.46" y="857" width="32.06" height="12" fill="#ebf3cf"/>
<rect x="421.22" y="857" width="32.06" height="12" fill="#d6e9a4"/>
<rect x="452.98" y="857" width="32.06" height="12" fill="#b9dc88"/>
<rect x="484.74" y="857" width="32.06" height="12" fill="#93c866"/>
<rect x="516.50" y="857" width="32.06" height="12" fill="#5aa84a"/>
<rect x="548.26" y="857" width="32.06" height="12" fill="#0f8a4c"/>
<rect x="580.02" y="857" width="32.06" height="12" fill="#0d6444"/>
<text x="228.9" y="880.6" font-size="9" font-weight="normal" text-anchor="middle" fill="#111">- 1</text>
<text x="260.6" y="880.6" font-size="9" font-weight="normal" text-anchor="middle" fill="#111">- 0.75</text>
<text x="292.4" y="880.6" font-size="9" font-weight="normal" text-anchor="middle" fill="#111">- 0.50</text>
<text x="324.1" y="880.6" font-size="9" font-weight="normal" text-anchor="middle" fill="#111">- 0.25</text>
<text x="355.9" y="880.6" font-size="9" font-weight="normal" text-anchor="middle" fill="#111">0</text>
<text x="387.7" y="880.6" font-size="9" font-weight="normal" text-anchor="middle" fill="#111">0.25</text>
<text x="419.4" y="880.6" font-size="9" font-weight="normal" text-anchor="middle" fill="#111">0.50</text>
<text x="451.2" y="880.6" font-size="9" font-weight="normal" text-anchor="middle" fill="#111">0.75</text>
<text x="482.9" y="880.6" font-size="9" font-weight="normal" text-anchor="middle" fill="#111">1</text>
<text x="514.7" y="880.6" font-size="9" font-weight="normal" text-anchor="middle" fill="#111">1.5</text>
<text x="546.5" y="880.6" font-size="9" font-weight="normal" text-anchor="middle" fill="#111">2</text>
<text x="578.2" y="880.6" font-size="9" font-weight="normal" text-anchor="middle" fill="#111">3</text>
<rect x="198.6" y="903.4" width="12.4" height="11.4" fill="#fff" stroke="#1a1a1a" stroke-width="1"/>
<rect x="198.6" y="914.8" width="12.4" height="11.4" fill="#fff" stroke="#1a1a1a" stroke-width="1"/>
<text x="217.0" y="913.0" font-size="9.6" font-weight="normal" text-anchor="start" fill="#141414" textLength="115" lengthAdjust="spacingAndGlyphs">декабрь-январь-февраль</text>
<text x="216.0" y="924.3" font-size="9.6" font-weight="normal" text-anchor="start" fill="#141414" textLength="80" lengthAdjust="spacingAndGlyphs">июнь-июль-август</text></svg></body></html>
